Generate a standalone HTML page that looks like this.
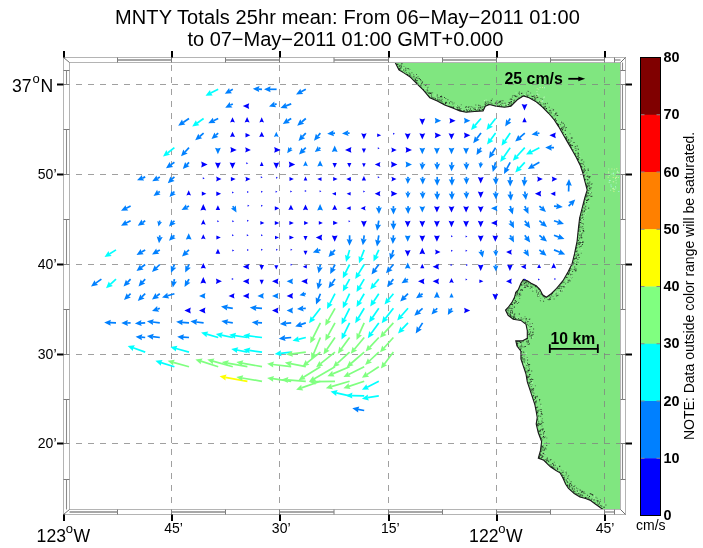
<!DOCTYPE html>
<html><head><meta charset="utf-8"><style>
html,body{margin:0;padding:0;background:#fff;}
svg{display:block;will-change:transform;}
text{font-family:"Liberation Sans",Arial,Helvetica,sans-serif;fill:#000;}
.t{font-size:20px;}
.deg{font-size:17.6px;}
.sup{font-size:13px;}
.min{font-size:14px;}
.cbl{font-size:14.4px;font-weight:bold;}
.b15{font-size:15.5px;font-weight:bold;}
.note{font-size:14px;}
</style></head><body>
<svg width="703" height="548" viewBox="0 0 703 548">
<rect width="703" height="548" fill="#fff"/>
<text class="t" x="115" y="24" textLength="464.8" lengthAdjust="spacing">MNTY Totals 25hr mean: From 06&#8722;May&#8722;2011 01:00</text>
<text class="t" x="187.4" y="46.2">to 07&#8722;May&#8722;2011 01:00 GMT+0.000</text>
<path d="M395.2 62.5 L398.9 69.9 L404.2 73.1 L410.6 77.4 L417.0 83.8 L423.4 90.2 L429.8 97.7 L437.3 100.9 L444.7 105.1 L453.3 108.3 L459.7 110.9 L466.1 112.2 L474.6 111.5 L483.1 110.9 L485.3 106.2 L489.5 104.5 L496.0 106.2 L504.5 107.3 L510.9 106.2 L517.3 99.8 L523.6 95.9 L529.1 97.7 L535.7 101.4 L542.2 106.9 L548.8 113.5 L554.3 120.0 L558.6 126.6 L563.0 134.3 L567.4 141.9 L571.8 149.6 L576.2 157.3 L580.5 166.0 L582.7 172.6 L584.9 181.3 L587.2 190.0 L584.8 197.7 L582.2 207.9 L579.6 218.1 L578.4 228.3 L577.1 241.1 L574.5 253.9 L572.0 264.1 L568.1 271.8 L563.0 280.7 L556.6 288.4 L551.5 293.5 L546.4 297.3 L542.6 294.8 L540.0 289.6 L536.2 285.8 L531.1 283.3 L527.3 280.7 L523.4 279.4 L520.9 283.3 L518.3 289.6 L515.8 292.2 L514.5 297.3 L511.9 302.4 L508.1 307.5 L505.5 310.2 L508.1 315.3 L513.2 319.2 L520.9 320.4 L526.0 324.3 L527.3 330.7 L527.3 338.3 L522.2 340.9 L515.8 340.9 L517.0 346.0 L520.9 351.1 L520.9 358.8 L523.4 366.4 L526.0 374.1 L527.3 381.8 L529.8 389.4 L532.4 397.1 L534.9 404.8 L536.2 411.5 L537.2 417.5 L536.2 424.1 L538.3 432.9 L541.6 441.6 L540.5 450.4 L538.3 458.1 L543.8 460.3 L550.4 466.8 L556.0 470.5 L560.0 472.8 L562.8 477.8 L565.7 484.2 L568.5 488.5 L574.2 493.5 L579.9 497.0 L585.6 498.5 L590.6 500.6 L595.6 504.2 L601.3 508.4 L602.5 509.5 L620.5 509.5 L620.5 62.5 Z" fill="#80e680"/>
<defs><clipPath id="landclip"><path d="M395.2 62.5 L398.9 69.9 L404.2 73.1 L410.6 77.4 L417.0 83.8 L423.4 90.2 L429.8 97.7 L437.3 100.9 L444.7 105.1 L453.3 108.3 L459.7 110.9 L466.1 112.2 L474.6 111.5 L483.1 110.9 L485.3 106.2 L489.5 104.5 L496.0 106.2 L504.5 107.3 L510.9 106.2 L517.3 99.8 L523.6 95.9 L529.1 97.7 L535.7 101.4 L542.2 106.9 L548.8 113.5 L554.3 120.0 L558.6 126.6 L563.0 134.3 L567.4 141.9 L571.8 149.6 L576.2 157.3 L580.5 166.0 L582.7 172.6 L584.9 181.3 L587.2 190.0 L584.8 197.7 L582.2 207.9 L579.6 218.1 L578.4 228.3 L577.1 241.1 L574.5 253.9 L572.0 264.1 L568.1 271.8 L563.0 280.7 L556.6 288.4 L551.5 293.5 L546.4 297.3 L542.6 294.8 L540.0 289.6 L536.2 285.8 L531.1 283.3 L527.3 280.7 L523.4 279.4 L520.9 283.3 L518.3 289.6 L515.8 292.2 L514.5 297.3 L511.9 302.4 L508.1 307.5 L505.5 310.2 L508.1 315.3 L513.2 319.2 L520.9 320.4 L526.0 324.3 L527.3 330.7 L527.3 338.3 L522.2 340.9 L515.8 340.9 L517.0 346.0 L520.9 351.1 L520.9 358.8 L523.4 366.4 L526.0 374.1 L527.3 381.8 L529.8 389.4 L532.4 397.1 L534.9 404.8 L536.2 411.5 L537.2 417.5 L536.2 424.1 L538.3 432.9 L541.6 441.6 L540.5 450.4 L538.3 458.1 L543.8 460.3 L550.4 466.8 L556.0 470.5 L560.0 472.8 L562.8 477.8 L565.7 484.2 L568.5 488.5 L574.2 493.5 L579.9 497.0 L585.6 498.5 L590.6 500.6 L595.6 504.2 L601.3 508.4 L602.5 509.5 L620.5 509.5 L620.5 62.5 Z"/></clipPath></defs>
<g clip-path="url(#landclip)"><path d="M396.1 64.3h1v1h-1zM396.1 61.6h1v1h-1zM398.0 63.8h1v1h-1zM397.7 67.5h1v1h-1zM395.0 62.5h1v1h-1zM396.8 63.6h1v1h-1zM405.2 69.6h1v1h-1zM400.4 67.3h1v1h-1zM404.4 71.3h1v1h-1zM409.4 74.4h1v1h-1zM408.3 68.5h1v1h-1zM409.0 75.2h1v1h-1zM406.0 72.0h1v1h-1zM407.2 73.9h1v1h-1zM408.5 72.2h1v1h-1zM413.3 74.0h1v1h-1zM412.4 76.8h1v1h-1zM413.6 77.6h1v1h-1zM415.8 82.5h1v1h-1zM416.4 80.5h1v1h-1zM411.1 77.7h1v1h-1zM420.5 87.3h1v1h-1zM419.9 86.3h1v1h-1zM424.5 91.1h1v1h-1zM427.4 92.0h1v1h-1zM426.9 87.4h1v1h-1zM426.0 92.2h1v1h-1zM431.0 92.3h1v1h-1zM429.8 92.6h1v1h-1zM426.5 91.5h1v1h-1zM429.4 92.3h1v1h-1zM427.6 86.7h1v1h-1zM423.0 89.8h1v1h-1zM432.2 97.5h1v1h-1zM432.1 92.2h1v1h-1zM436.7 95.8h1v1h-1zM437.2 98.2h1v1h-1zM440.4 101.5h1v1h-1zM439.9 101.6h1v1h-1zM450.7 105.9h1v1h-1zM453.7 102.6h1v1h-1zM453.2 106.3h1v1h-1zM451.1 106.3h1v1h-1zM444.6 104.7h1v1h-1zM459.0 109.5h1v1h-1zM458.1 109.8h1v1h-1zM457.8 109.3h1v1h-1zM460.8 104.2h1v1h-1zM458.0 106.5h1v1h-1zM462.2 110.4h1v1h-1zM471.0 110.1h1v1h-1zM469.3 111.2h1v1h-1zM466.8 110.9h1v1h-1zM468.1 108.8h1v1h-1zM465.8 109.4h1v1h-1zM472.3 106.7h1v1h-1zM474.5 107.2h1v1h-1zM474.3 110.9h1v1h-1zM482.2 108.9h1v1h-1zM479.2 109.2h1v1h-1zM475.2 110.5h1v1h-1zM483.2 106.2h1v1h-1zM478.2 106.9h1v1h-1zM483.0 108.3h1v1h-1zM480.0 108.7h1v1h-1zM486.0 103.0h1v1h-1zM491.3 104.4h1v1h-1zM490.6 101.4h1v1h-1zM491.8 98.6h1v1h-1zM489.8 103.8h1v1h-1zM496.6 100.3h1v1h-1zM495.1 102.7h1v1h-1zM492.4 104.8h1v1h-1zM490.7 99.8h1v1h-1zM492.6 104.2h1v1h-1zM503.5 106.3h1v1h-1zM500.5 99.9h1v1h-1zM503.6 102.9h1v1h-1zM496.9 103.3h1v1h-1zM497.0 105.0h1v1h-1zM498.6 100.8h1v1h-1zM507.8 104.5h1v1h-1zM504.8 103.3h1v1h-1zM510.8 104.2h1v1h-1zM513.1 101.6h1v1h-1zM511.7 104.3h1v1h-1zM511.8 104.1h1v1h-1zM518.1 97.4h1v1h-1zM518.8 97.6h1v1h-1zM518.5 97.3h1v1h-1zM520.2 97.1h1v1h-1zM514.7 95.2h1v1h-1zM519.0 94.0h1v1h-1zM517.3 98.6h1v1h-1zM524.1 95.7h1v1h-1zM528.0 91.1h1v1h-1zM526.8 96.4h1v1h-1zM527.0 95.2h1v1h-1zM530.1 92.5h1v1h-1zM527.4 90.8h1v1h-1zM527.0 96.7h1v1h-1zM534.2 98.4h1v1h-1zM534.9 98.1h1v1h-1zM536.0 94.9h1v1h-1zM540.4 98.0h1v1h-1zM539.7 103.5h1v1h-1zM535.8 100.7h1v1h-1zM540.1 104.1h1v1h-1zM547.1 111.5h1v1h-1zM544.7 104.2h1v1h-1zM546.6 110.9h1v1h-1zM555.6 113.3h1v1h-1zM549.8 113.6h1v1h-1zM554.6 114.2h1v1h-1zM553.6 115.2h1v1h-1zM555.3 119.2h1v1h-1zM560.1 124.0h1v1h-1zM559.8 124.2h1v1h-1zM562.9 126.4h1v1h-1zM565.0 128.4h1v1h-1zM560.0 129.2h1v1h-1zM562.4 132.3h1v1h-1zM569.5 139.4h1v1h-1zM570.5 136.9h1v1h-1zM564.3 136.9h1v1h-1zM569.6 133.3h1v1h-1zM565.5 139.1h1v1h-1zM567.6 140.2h1v1h-1zM566.5 136.8h1v1h-1zM563.6 134.6h1v1h-1zM567.4 141.3h1v1h-1zM571.2 143.4h1v1h-1zM569.8 141.4h1v1h-1zM569.8 144.0h1v1h-1zM568.3 142.5h1v1h-1zM570.8 140.4h1v1h-1zM574.5 147.5h1v1h-1zM576.6 148.6h1v1h-1zM577.6 153.0h1v1h-1zM578.1 154.7h1v1h-1zM575.3 148.0h1v1h-1zM578.0 155.4h1v1h-1zM580.1 165.1h1v1h-1zM577.1 159.4h1v1h-1zM578.6 162.5h1v1h-1zM582.4 170.9h1v1h-1zM587.7 168.3h1v1h-1zM587.9 170.0h1v1h-1zM584.2 178.2h1v1h-1zM587.9 176.9h1v1h-1zM587.4 176.0h1v1h-1zM583.4 176.1h1v1h-1zM586.3 172.6h1v1h-1zM583.8 178.4h1v1h-1zM583.8 175.0h1v1h-1zM587.3 174.9h1v1h-1zM586.4 185.2h1v1h-1zM586.9 185.5h1v1h-1zM586.3 187.1h1v1h-1zM586.7 189.4h1v1h-1zM590.4 187.3h1v1h-1zM589.8 193.5h1v1h-1zM585.2 196.6h1v1h-1zM585.0 195.0h1v1h-1zM591.0 192.3h1v1h-1zM586.3 190.7h1v1h-1zM586.6 199.4h1v1h-1zM583.1 206.7h1v1h-1zM582.0 207.0h1v1h-1zM588.3 207.6h1v1h-1zM584.3 198.3h1v1h-1zM583.4 202.5h1v1h-1zM580.1 214.4h1v1h-1zM582.6 216.6h1v1h-1zM584.0 210.9h1v1h-1zM584.3 209.7h1v1h-1zM578.7 225.8h1v1h-1zM581.5 227.4h1v1h-1zM582.8 228.1h1v1h-1zM580.7 221.7h1v1h-1zM582.9 219.0h1v1h-1zM578.5 226.0h1v1h-1zM578.6 229.8h1v1h-1zM579.8 230.4h1v1h-1zM579.1 235.1h1v1h-1zM577.3 238.8h1v1h-1zM583.2 230.9h1v1h-1zM579.3 228.7h1v1h-1zM578.9 234.6h1v1h-1zM578.5 237.0h1v1h-1zM577.3 234.1h1v1h-1zM578.3 230.4h1v1h-1zM575.8 248.2h1v1h-1zM576.2 246.9h1v1h-1zM575.4 246.5h1v1h-1zM578.1 242.5h1v1h-1zM576.3 244.9h1v1h-1zM576.8 250.3h1v1h-1zM580.8 252.7h1v1h-1zM578.5 244.1h1v1h-1zM574.5 251.1h1v1h-1zM577.4 253.1h1v1h-1zM576.1 247.5h1v1h-1zM574.6 261.6h1v1h-1zM575.7 253.9h1v1h-1zM576.8 264.1h1v1h-1zM572.6 268.9h1v1h-1zM569.5 268.7h1v1h-1zM574.4 268.2h1v1h-1zM569.3 270.1h1v1h-1zM567.0 272.9h1v1h-1zM566.2 273.8h1v1h-1zM571.5 276.9h1v1h-1zM559.8 283.5h1v1h-1zM564.2 286.3h1v1h-1zM565.1 283.5h1v1h-1zM556.5 295.3h1v1h-1zM555.6 293.8h1v1h-1zM552.2 292.2h1v1h-1zM557.7 294.7h1v1h-1zM550.6 293.3h1v1h-1zM550.1 297.1h1v1h-1zM549.0 294.5h1v1h-1zM547.6 295.6h1v1h-1zM547.1 295.9h1v1h-1zM548.5 299.5h1v1h-1zM540.2 298.2h1v1h-1zM539.7 290.6h1v1h-1zM538.6 295.5h1v1h-1zM541.4 292.9h1v1h-1zM538.7 288.6h1v1h-1zM535.9 285.8h1v1h-1zM534.9 285.6h1v1h-1zM531.9 286.5h1v1h-1zM527.9 281.0h1v1h-1zM526.3 281.4h1v1h-1zM530.3 283.0h1v1h-1zM526.1 284.7h1v1h-1zM522.8 279.1h1v1h-1zM526.0 281.5h1v1h-1zM522.7 282.0h1v1h-1zM521.4 284.8h1v1h-1zM526.1 282.4h1v1h-1zM522.8 282.2h1v1h-1zM520.7 289.0h1v1h-1zM524.3 284.6h1v1h-1zM521.9 290.1h1v1h-1zM519.4 292.6h1v1h-1zM517.7 289.7h1v1h-1zM519.2 298.1h1v1h-1zM517.8 293.3h1v1h-1zM516.1 295.6h1v1h-1zM514.6 294.6h1v1h-1zM512.9 299.1h1v1h-1zM515.0 301.7h1v1h-1zM511.4 303.3h1v1h-1zM509.5 306.2h1v1h-1zM512.2 305.4h1v1h-1zM506.2 308.6h1v1h-1zM510.4 310.3h1v1h-1zM510.4 308.1h1v1h-1zM508.1 309.5h1v1h-1zM511.4 310.3h1v1h-1zM513.3 317.3h1v1h-1zM509.3 315.8h1v1h-1zM510.7 316.9h1v1h-1zM510.1 315.3h1v1h-1zM511.9 316.0h1v1h-1zM514.1 316.3h1v1h-1zM513.5 314.4h1v1h-1zM514.6 317.5h1v1h-1zM520.2 319.9h1v1h-1zM524.5 316.3h1v1h-1zM524.9 320.9h1v1h-1zM524.1 322.4h1v1h-1zM523.4 318.3h1v1h-1zM527.1 324.0h1v1h-1zM527.7 325.1h1v1h-1zM527.1 323.7h1v1h-1zM525.9 324.9h1v1h-1zM532.5 333.8h1v1h-1zM526.9 332.8h1v1h-1zM529.0 333.1h1v1h-1zM527.2 334.4h1v1h-1zM525.0 345.9h1v1h-1zM526.9 343.4h1v1h-1zM526.1 338.4h1v1h-1zM519.1 342.6h1v1h-1zM521.7 345.7h1v1h-1zM516.8 340.8h1v1h-1zM517.8 340.7h1v1h-1zM516.7 344.3h1v1h-1zM517.0 344.2h1v1h-1zM516.7 340.3h1v1h-1zM515.5 341.0h1v1h-1zM518.8 339.8h1v1h-1zM521.4 346.8h1v1h-1zM523.6 355.6h1v1h-1zM520.4 352.7h1v1h-1zM521.2 351.5h1v1h-1zM522.8 351.5h1v1h-1zM523.4 359.4h1v1h-1zM528.6 365.4h1v1h-1zM525.6 367.5h1v1h-1zM527.9 371.3h1v1h-1zM528.2 366.4h1v1h-1zM524.6 370.5h1v1h-1zM525.4 370.8h1v1h-1zM526.9 378.5h1v1h-1zM526.7 379.0h1v1h-1zM530.1 379.4h1v1h-1zM527.3 382.8h1v1h-1zM528.1 382.3h1v1h-1zM531.7 384.3h1v1h-1zM527.7 382.7h1v1h-1zM534.9 385.2h1v1h-1zM530.2 384.1h1v1h-1zM533.6 392.7h1v1h-1zM532.8 392.2h1v1h-1zM533.1 395.4h1v1h-1zM534.3 403.7h1v1h-1zM534.9 402.5h1v1h-1zM532.1 396.7h1v1h-1zM536.1 402.2h1v1h-1zM534.3 401.6h1v1h-1zM534.3 397.0h1v1h-1zM533.8 402.1h1v1h-1zM537.6 409.9h1v1h-1zM536.5 407.1h1v1h-1zM534.5 404.4h1v1h-1zM537.6 411.0h1v1h-1zM539.9 416.0h1v1h-1zM539.3 415.3h1v1h-1zM535.9 412.0h1v1h-1zM540.3 415.7h1v1h-1zM541.8 418.2h1v1h-1zM538.3 422.9h1v1h-1zM538.5 423.7h1v1h-1zM538.2 420.6h1v1h-1zM536.4 419.7h1v1h-1zM537.0 419.6h1v1h-1zM541.6 421.6h1v1h-1zM537.8 421.4h1v1h-1zM537.2 429.0h1v1h-1zM536.0 424.0h1v1h-1zM539.8 431.3h1v1h-1zM538.1 431.3h1v1h-1zM539.5 430.2h1v1h-1zM541.5 425.5h1v1h-1zM539.3 435.8h1v1h-1zM541.9 439.5h1v1h-1zM546.3 437.5h1v1h-1zM544.7 436.2h1v1h-1zM543.4 437.5h1v1h-1zM540.9 437.5h1v1h-1zM542.7 445.3h1v1h-1zM540.6 447.6h1v1h-1zM540.9 443.1h1v1h-1zM542.4 447.3h1v1h-1zM546.0 442.5h1v1h-1zM539.9 454.0h1v1h-1zM542.8 459.2h1v1h-1zM545.7 462.1h1v1h-1zM549.6 459.7h1v1h-1zM553.8 461.7h1v1h-1zM550.3 464.8h1v1h-1zM544.3 458.9h1v1h-1zM548.3 461.3h1v1h-1zM550.6 459.0h1v1h-1zM546.0 460.2h1v1h-1zM555.5 469.8h1v1h-1zM556.7 467.2h1v1h-1zM551.0 466.8h1v1h-1zM554.8 467.6h1v1h-1zM560.6 469.8h1v1h-1zM562.4 477.1h1v1h-1zM562.6 470.6h1v1h-1zM565.5 474.4h1v1h-1zM566.0 473.2h1v1h-1zM561.1 475.2h1v1h-1zM568.2 475.0h1v1h-1zM563.7 478.8h1v1h-1zM563.7 480.3h1v1h-1zM568.5 479.5h1v1h-1zM564.7 482.2h1v1h-1zM568.2 485.4h1v1h-1zM569.1 485.8h1v1h-1zM567.2 484.4h1v1h-1zM566.3 485.0h1v1h-1zM567.3 486.7h1v1h-1zM568.7 488.4h1v1h-1zM572.2 486.7h1v1h-1zM574.4 485.0h1v1h-1zM570.2 489.2h1v1h-1zM579.4 496.0h1v1h-1zM577.2 493.3h1v1h-1zM577.3 488.3h1v1h-1zM575.6 492.9h1v1h-1zM576.7 489.9h1v1h-1zM584.0 491.5h1v1h-1zM584.5 497.3h1v1h-1zM581.4 497.0h1v1h-1zM581.5 490.6h1v1h-1zM590.5 493.4h1v1h-1zM588.5 498.9h1v1h-1zM589.8 493.8h1v1h-1zM596.6 497.7h1v1h-1zM597.1 500.4h1v1h-1zM590.7 499.6h1v1h-1zM596.5 500.0h1v1h-1zM599.7 507.1h1v1h-1zM600.6 505.6h1v1h-1zM599.7 506.9h1v1h-1zM597.6 505.0h1v1h-1zM599.9 499.2h1v1h-1zM598.8 503.5h1v1h-1zM597.0 502.4h1v1h-1z" fill="#1a1a1a" fill-opacity="0.45"/><path d="M397.8 68.0h1v1h-1zM396.8 66.1h1v1h-1zM395.3 62.2h1v1h-1zM399.7 64.7h1v1h-1zM401.5 62.9h1v1h-1zM397.0 66.5h1v1h-1zM398.5 60.6h1v1h-1zM403.4 65.9h1v1h-1zM405.3 69.8h1v1h-1zM399.3 69.6h1v1h-1zM408.5 75.1h1v1h-1zM409.3 73.1h1v1h-1zM411.4 72.3h1v1h-1zM410.4 75.8h1v1h-1zM409.1 76.1h1v1h-1zM409.6 69.4h1v1h-1zM415.0 80.4h1v1h-1zM417.5 76.2h1v1h-1zM417.5 78.0h1v1h-1zM416.9 80.0h1v1h-1zM414.8 77.8h1v1h-1zM422.1 81.2h1v1h-1zM421.0 87.7h1v1h-1zM423.6 84.3h1v1h-1zM422.9 89.7h1v1h-1zM423.3 89.0h1v1h-1zM422.0 82.2h1v1h-1zM419.8 85.2h1v1h-1zM430.9 94.2h1v1h-1zM424.6 91.6h1v1h-1zM429.1 92.4h1v1h-1zM427.3 90.2h1v1h-1zM433.4 97.2h1v1h-1zM432.9 98.1h1v1h-1zM432.1 97.4h1v1h-1zM431.4 98.1h1v1h-1zM431.4 97.4h1v1h-1zM436.8 99.0h1v1h-1zM434.4 98.6h1v1h-1zM445.3 98.1h1v1h-1zM440.1 99.7h1v1h-1zM441.0 100.3h1v1h-1zM438.7 99.3h1v1h-1zM444.3 104.0h1v1h-1zM439.5 97.2h1v1h-1zM442.0 103.2h1v1h-1zM451.6 101.8h1v1h-1zM452.4 103.6h1v1h-1zM448.6 105.8h1v1h-1zM446.1 102.3h1v1h-1zM450.3 101.0h1v1h-1zM452.1 107.5h1v1h-1zM459.4 106.4h1v1h-1zM456.6 105.3h1v1h-1zM460.5 110.2h1v1h-1zM465.6 111.6h1v1h-1zM460.7 110.7h1v1h-1zM460.4 108.0h1v1h-1zM463.5 111.0h1v1h-1zM468.6 106.2h1v1h-1zM466.1 108.9h1v1h-1zM466.4 109.8h1v1h-1zM473.1 108.3h1v1h-1zM470.6 106.3h1v1h-1zM473.6 110.8h1v1h-1zM478.2 107.7h1v1h-1zM474.4 109.1h1v1h-1zM475.3 104.6h1v1h-1zM478.5 109.4h1v1h-1zM480.5 108.3h1v1h-1zM484.4 103.8h1v1h-1zM487.7 103.2h1v1h-1zM485.4 105.4h1v1h-1zM489.5 102.3h1v1h-1zM500.2 103.9h1v1h-1zM498.8 105.4h1v1h-1zM500.1 101.0h1v1h-1zM498.3 102.1h1v1h-1zM497.3 102.8h1v1h-1zM508.1 103.6h1v1h-1zM507.7 103.7h1v1h-1zM509.6 105.3h1v1h-1zM509.8 105.7h1v1h-1zM507.3 106.1h1v1h-1zM510.6 104.5h1v1h-1zM512.5 95.1h1v1h-1zM508.3 102.0h1v1h-1zM511.8 101.1h1v1h-1zM512.9 102.2h1v1h-1zM514.2 99.5h1v1h-1zM511.9 96.6h1v1h-1zM509.7 98.8h1v1h-1zM521.8 96.1h1v1h-1zM515.8 96.3h1v1h-1zM518.9 91.6h1v1h-1zM516.5 95.8h1v1h-1zM521.0 93.1h1v1h-1zM523.8 95.6h1v1h-1zM526.3 92.4h1v1h-1zM536.1 97.2h1v1h-1zM533.0 98.7h1v1h-1zM532.7 95.7h1v1h-1zM535.7 96.4h1v1h-1zM542.3 104.2h1v1h-1zM539.1 101.1h1v1h-1zM541.8 98.7h1v1h-1zM536.9 102.3h1v1h-1zM540.3 103.7h1v1h-1zM537.9 102.6h1v1h-1zM535.7 101.1h1v1h-1zM545.1 109.4h1v1h-1zM551.5 108.7h1v1h-1zM546.9 102.7h1v1h-1zM548.7 106.8h1v1h-1zM549.1 111.8h1v1h-1zM547.9 112.4h1v1h-1zM545.0 103.1h1v1h-1zM545.6 110.0h1v1h-1zM550.2 109.7h1v1h-1zM545.0 105.9h1v1h-1zM554.8 112.8h1v1h-1zM553.7 119.3h1v1h-1zM554.9 118.0h1v1h-1zM553.1 109.2h1v1h-1zM550.4 111.4h1v1h-1zM550.7 115.5h1v1h-1zM550.9 112.4h1v1h-1zM561.3 122.2h1v1h-1zM556.7 123.9h1v1h-1zM557.6 124.0h1v1h-1zM562.6 132.0h1v1h-1zM562.7 127.7h1v1h-1zM561.7 126.8h1v1h-1zM560.4 128.7h1v1h-1zM565.9 136.0h1v1h-1zM570.9 137.8h1v1h-1zM566.2 137.5h1v1h-1zM569.0 142.7h1v1h-1zM568.1 143.5h1v1h-1zM570.1 146.8h1v1h-1zM570.8 144.9h1v1h-1zM569.5 145.1h1v1h-1zM570.4 145.4h1v1h-1zM573.1 152.1h1v1h-1zM575.2 153.1h1v1h-1zM573.0 152.0h1v1h-1zM577.3 154.6h1v1h-1zM580.8 159.8h1v1h-1zM581.3 163.0h1v1h-1zM582.5 164.0h1v1h-1zM578.9 156.7h1v1h-1zM578.5 162.2h1v1h-1zM583.3 161.4h1v1h-1zM580.2 166.1h1v1h-1zM582.0 171.4h1v1h-1zM581.0 165.8h1v1h-1zM583.9 170.6h1v1h-1zM584.1 165.8h1v1h-1zM585.2 179.0h1v1h-1zM583.1 175.6h1v1h-1zM587.3 179.4h1v1h-1zM590.6 187.3h1v1h-1zM589.9 188.4h1v1h-1zM586.9 183.3h1v1h-1zM591.6 183.2h1v1h-1zM586.1 185.0h1v1h-1zM585.9 183.8h1v1h-1zM589.2 194.9h1v1h-1zM585.4 195.0h1v1h-1zM586.8 192.6h1v1h-1zM584.6 207.4h1v1h-1zM583.6 201.0h1v1h-1zM588.1 207.7h1v1h-1zM586.5 199.9h1v1h-1zM581.2 217.8h1v1h-1zM579.6 217.4h1v1h-1zM581.5 211.7h1v1h-1zM581.8 211.6h1v1h-1zM583.2 211.6h1v1h-1zM585.3 209.0h1v1h-1zM584.7 213.9h1v1h-1zM579.8 224.9h1v1h-1zM579.8 221.3h1v1h-1zM578.9 219.4h1v1h-1zM583.0 223.4h1v1h-1zM582.2 225.9h1v1h-1zM581.0 235.2h1v1h-1zM578.3 228.3h1v1h-1zM581.0 233.4h1v1h-1zM583.3 230.7h1v1h-1zM579.0 238.3h1v1h-1zM582.2 232.4h1v1h-1zM582.4 229.7h1v1h-1zM577.7 243.5h1v1h-1zM576.4 244.6h1v1h-1zM582.3 242.0h1v1h-1zM575.3 249.5h1v1h-1zM581.0 245.4h1v1h-1zM580.1 245.9h1v1h-1zM580.7 241.9h1v1h-1zM577.1 242.7h1v1h-1zM579.9 242.5h1v1h-1zM575.5 263.5h1v1h-1zM577.9 255.1h1v1h-1zM575.1 258.1h1v1h-1zM572.3 260.4h1v1h-1zM573.9 257.6h1v1h-1zM572.7 263.6h1v1h-1zM576.0 261.8h1v1h-1zM570.7 268.6h1v1h-1zM570.8 277.3h1v1h-1zM567.3 271.9h1v1h-1zM567.3 272.7h1v1h-1zM571.4 274.0h1v1h-1zM565.3 276.3h1v1h-1zM560.3 291.0h1v1h-1zM565.6 283.0h1v1h-1zM560.6 288.1h1v1h-1zM556.7 288.3h1v1h-1zM560.0 290.0h1v1h-1zM561.6 282.2h1v1h-1zM555.7 292.4h1v1h-1zM551.9 292.5h1v1h-1zM555.8 289.9h1v1h-1zM556.8 295.1h1v1h-1zM555.9 295.4h1v1h-1zM551.2 295.2h1v1h-1zM549.4 295.8h1v1h-1zM548.9 299.0h1v1h-1zM553.6 298.4h1v1h-1zM541.9 295.2h1v1h-1zM544.1 298.1h1v1h-1zM539.9 300.2h1v1h-1zM539.0 291.2h1v1h-1zM537.4 296.1h1v1h-1zM540.3 293.5h1v1h-1zM537.0 294.6h1v1h-1zM535.9 289.8h1v1h-1zM538.8 289.4h1v1h-1zM535.2 286.3h1v1h-1zM539.0 288.8h1v1h-1zM530.4 284.3h1v1h-1zM532.8 284.0h1v1h-1zM532.3 290.7h1v1h-1zM531.0 286.7h1v1h-1zM529.8 287.9h1v1h-1zM526.2 285.6h1v1h-1zM527.0 281.2h1v1h-1zM525.3 286.3h1v1h-1zM528.0 281.5h1v1h-1zM526.5 284.2h1v1h-1zM524.4 280.1h1v1h-1zM523.5 279.7h1v1h-1zM523.3 279.1h1v1h-1zM522.6 281.1h1v1h-1zM522.6 281.7h1v1h-1zM521.1 282.0h1v1h-1zM523.7 286.5h1v1h-1zM520.9 289.2h1v1h-1zM523.9 287.0h1v1h-1zM515.9 291.2h1v1h-1zM516.9 292.2h1v1h-1zM517.1 291.1h1v1h-1zM515.2 292.2h1v1h-1zM515.5 302.2h1v1h-1zM513.1 301.2h1v1h-1zM511.9 300.9h1v1h-1zM511.8 308.2h1v1h-1zM510.7 307.8h1v1h-1zM509.1 307.7h1v1h-1zM510.2 303.6h1v1h-1zM506.2 310.4h1v1h-1zM509.7 310.4h1v1h-1zM507.6 312.3h1v1h-1zM505.5 310.8h1v1h-1zM511.4 309.7h1v1h-1zM506.7 309.8h1v1h-1zM511.9 311.3h1v1h-1zM506.8 312.2h1v1h-1zM511.8 312.9h1v1h-1zM518.9 319.4h1v1h-1zM515.0 318.1h1v1h-1zM520.1 318.7h1v1h-1zM513.8 314.4h1v1h-1zM514.3 313.2h1v1h-1zM514.2 313.8h1v1h-1zM513.1 317.9h1v1h-1zM529.3 318.6h1v1h-1zM526.5 321.6h1v1h-1zM525.3 322.4h1v1h-1zM531.8 322.9h1v1h-1zM531.5 335.1h1v1h-1zM532.5 331.4h1v1h-1zM530.8 334.4h1v1h-1zM532.5 333.9h1v1h-1zM529.4 332.9h1v1h-1zM529.3 335.6h1v1h-1zM526.6 341.8h1v1h-1zM526.9 338.2h1v1h-1zM528.0 341.5h1v1h-1zM522.6 341.2h1v1h-1zM515.7 340.5h1v1h-1zM519.9 340.4h1v1h-1zM515.7 340.3h1v1h-1zM516.3 342.0h1v1h-1zM516.9 340.9h1v1h-1zM519.4 349.1h1v1h-1zM523.5 346.5h1v1h-1zM518.0 346.9h1v1h-1zM519.5 346.2h1v1h-1zM520.5 353.2h1v1h-1zM520.7 355.4h1v1h-1zM528.1 364.1h1v1h-1zM521.6 358.4h1v1h-1zM524.4 359.4h1v1h-1zM523.8 358.3h1v1h-1zM527.0 371.4h1v1h-1zM525.2 371.1h1v1h-1zM524.0 366.7h1v1h-1zM528.3 369.9h1v1h-1zM525.9 371.4h1v1h-1zM527.6 369.4h1v1h-1zM529.7 374.1h1v1h-1zM528.0 376.9h1v1h-1zM531.6 379.0h1v1h-1zM528.8 377.4h1v1h-1zM527.5 382.3h1v1h-1zM529.2 387.4h1v1h-1zM531.8 396.4h1v1h-1zM530.8 388.6h1v1h-1zM530.1 389.0h1v1h-1zM532.8 387.9h1v1h-1zM531.7 391.4h1v1h-1zM534.8 403.7h1v1h-1zM539.0 400.2h1v1h-1zM537.2 406.5h1v1h-1zM537.3 410.6h1v1h-1zM535.3 408.9h1v1h-1zM535.8 407.3h1v1h-1zM538.6 409.4h1v1h-1zM536.3 410.7h1v1h-1zM540.3 403.8h1v1h-1zM541.4 420.6h1v1h-1zM540.5 429.0h1v1h-1zM538.7 423.2h1v1h-1zM536.7 424.0h1v1h-1zM541.9 429.8h1v1h-1zM544.1 437.1h1v1h-1zM539.2 434.4h1v1h-1zM540.7 434.0h1v1h-1zM542.7 447.2h1v1h-1zM540.3 447.5h1v1h-1zM541.1 445.1h1v1h-1zM543.8 448.4h1v1h-1zM540.3 454.1h1v1h-1zM538.9 453.7h1v1h-1zM541.3 454.7h1v1h-1zM542.8 453.6h1v1h-1zM539.7 453.3h1v1h-1zM540.8 450.2h1v1h-1zM544.6 454.1h1v1h-1zM542.7 459.5h1v1h-1zM539.9 458.4h1v1h-1zM538.3 457.1h1v1h-1zM538.9 456.2h1v1h-1zM540.5 454.4h1v1h-1zM546.2 460.4h1v1h-1zM546.1 462.3h1v1h-1zM545.6 459.4h1v1h-1zM550.5 464.2h1v1h-1zM544.3 460.6h1v1h-1zM550.1 459.3h1v1h-1zM548.8 464.2h1v1h-1zM552.7 463.5h1v1h-1zM554.8 464.8h1v1h-1zM553.3 465.2h1v1h-1zM559.0 465.9h1v1h-1zM562.4 475.1h1v1h-1zM563.5 475.4h1v1h-1zM566.9 481.5h1v1h-1zM567.5 476.3h1v1h-1zM563.4 477.1h1v1h-1zM566.2 480.6h1v1h-1zM562.9 478.1h1v1h-1zM566.2 484.9h1v1h-1zM571.2 484.9h1v1h-1zM571.8 488.3h1v1h-1zM573.3 492.6h1v1h-1zM576.0 487.5h1v1h-1zM573.3 490.2h1v1h-1zM574.2 493.1h1v1h-1zM579.7 490.1h1v1h-1zM579.3 493.6h1v1h-1zM580.9 492.1h1v1h-1zM579.6 489.2h1v1h-1zM584.4 492.9h1v1h-1zM581.7 491.3h1v1h-1zM583.0 492.5h1v1h-1zM579.4 496.4h1v1h-1zM586.3 496.9h1v1h-1zM586.7 498.6h1v1h-1zM588.9 498.7h1v1h-1zM593.5 499.4h1v1h-1zM595.4 496.8h1v1h-1zM593.5 499.6h1v1h-1zM591.4 498.5h1v1h-1zM594.4 502.0h1v1h-1zM596.9 500.4h1v1h-1zM601.3 505.7h1v1h-1zM600.2 505.0h1v1h-1zM600.6 507.7h1v1h-1zM596.7 503.9h1v1h-1zM597.8 504.0h1v1h-1zM599.7 501.1h1v1h-1zM603.5 506.7h1v1h-1z" fill="#1a1a1a" fill-opacity="0.6"/><path d="M399.2 65.6h1v1h-1zM396.8 64.1h1v1h-1zM398.0 60.9h1v1h-1zM399.1 68.5h1v1h-1zM405.3 67.7h1v1h-1zM403.2 69.6h1v1h-1zM401.7 71.3h1v1h-1zM401.0 70.8h1v1h-1zM407.5 68.1h1v1h-1zM410.1 76.9h1v1h-1zM409.0 75.9h1v1h-1zM416.1 77.3h1v1h-1zM415.5 82.2h1v1h-1zM414.9 78.9h1v1h-1zM415.6 80.2h1v1h-1zM419.8 79.1h1v1h-1zM415.7 74.1h1v1h-1zM413.4 75.7h1v1h-1zM421.1 82.8h1v1h-1zM420.6 84.4h1v1h-1zM422.0 85.9h1v1h-1zM420.2 86.2h1v1h-1zM419.3 86.0h1v1h-1zM428.2 92.7h1v1h-1zM429.8 93.2h1v1h-1zM428.7 96.4h1v1h-1zM426.7 89.5h1v1h-1zM437.3 96.9h1v1h-1zM434.9 98.2h1v1h-1zM441.6 103.0h1v1h-1zM441.6 101.4h1v1h-1zM443.0 103.5h1v1h-1zM440.1 96.1h1v1h-1zM438.4 99.7h1v1h-1zM444.9 102.9h1v1h-1zM441.0 95.7h1v1h-1zM445.3 102.0h1v1h-1zM449.8 106.6h1v1h-1zM449.0 102.6h1v1h-1zM452.5 106.8h1v1h-1zM445.2 103.2h1v1h-1zM444.9 103.5h1v1h-1zM453.1 107.4h1v1h-1zM459.3 109.2h1v1h-1zM458.8 107.5h1v1h-1zM456.7 107.0h1v1h-1zM459.1 110.1h1v1h-1zM462.5 110.6h1v1h-1zM460.5 109.9h1v1h-1zM462.7 111.1h1v1h-1zM466.7 111.6h1v1h-1zM467.8 106.8h1v1h-1zM472.6 110.8h1v1h-1zM471.2 110.4h1v1h-1zM470.0 108.5h1v1h-1zM469.3 109.9h1v1h-1zM469.4 109.9h1v1h-1zM466.6 110.2h1v1h-1zM481.7 108.9h1v1h-1zM478.9 109.6h1v1h-1zM478.7 108.5h1v1h-1zM481.7 106.6h1v1h-1zM482.6 109.6h1v1h-1zM478.2 104.7h1v1h-1zM484.2 107.0h1v1h-1zM487.6 103.9h1v1h-1zM485.2 104.3h1v1h-1zM487.5 101.5h1v1h-1zM495.7 101.7h1v1h-1zM493.0 105.0h1v1h-1zM501.0 105.4h1v1h-1zM499.4 101.0h1v1h-1zM498.6 105.2h1v1h-1zM501.6 102.7h1v1h-1zM504.4 102.5h1v1h-1zM499.5 106.0h1v1h-1zM505.4 105.2h1v1h-1zM509.6 105.0h1v1h-1zM505.5 105.3h1v1h-1zM510.6 101.4h1v1h-1zM511.3 103.2h1v1h-1zM510.5 101.3h1v1h-1zM510.6 98.5h1v1h-1zM509.3 102.1h1v1h-1zM514.6 101.3h1v1h-1zM514.3 95.2h1v1h-1zM518.5 92.7h1v1h-1zM521.6 95.5h1v1h-1zM521.7 96.2h1v1h-1zM526.5 94.4h1v1h-1zM527.1 96.6h1v1h-1zM531.6 97.9h1v1h-1zM532.4 96.0h1v1h-1zM537.2 97.0h1v1h-1zM530.9 98.4h1v1h-1zM531.4 95.8h1v1h-1zM541.1 105.9h1v1h-1zM540.7 105.5h1v1h-1zM543.7 106.2h1v1h-1zM542.9 107.0h1v1h-1zM546.0 108.0h1v1h-1zM551.8 116.6h1v1h-1zM555.2 113.5h1v1h-1zM556.6 115.1h1v1h-1zM552.3 117.6h1v1h-1zM553.5 119.2h1v1h-1zM562.7 122.7h1v1h-1zM555.9 120.2h1v1h-1zM556.9 123.3h1v1h-1zM556.9 123.6h1v1h-1zM554.7 119.2h1v1h-1zM561.6 130.3h1v1h-1zM564.7 129.9h1v1h-1zM565.6 126.9h1v1h-1zM560.4 127.8h1v1h-1zM561.0 131.1h1v1h-1zM558.2 126.2h1v1h-1zM561.3 127.4h1v1h-1zM562.1 129.1h1v1h-1zM564.6 137.3h1v1h-1zM571.6 137.4h1v1h-1zM565.0 134.1h1v1h-1zM565.9 137.7h1v1h-1zM569.6 143.9h1v1h-1zM573.5 141.9h1v1h-1zM568.5 142.1h1v1h-1zM571.8 145.0h1v1h-1zM576.7 145.4h1v1h-1zM569.8 145.3h1v1h-1zM572.3 149.4h1v1h-1zM575.3 156.0h1v1h-1zM574.7 154.8h1v1h-1zM577.6 152.6h1v1h-1zM577.3 158.2h1v1h-1zM579.0 162.4h1v1h-1zM576.5 158.2h1v1h-1zM578.2 161.7h1v1h-1zM583.9 168.4h1v1h-1zM587.6 169.6h1v1h-1zM580.7 166.3h1v1h-1zM581.5 166.6h1v1h-1zM580.4 166.4h1v1h-1zM582.2 171.4h1v1h-1zM584.8 169.8h1v1h-1zM582.4 170.0h1v1h-1zM582.5 169.5h1v1h-1zM589.1 177.2h1v1h-1zM589.4 176.1h1v1h-1zM586.6 176.0h1v1h-1zM583.1 172.0h1v1h-1zM588.7 185.4h1v1h-1zM588.3 184.5h1v1h-1zM588.5 182.8h1v1h-1zM586.5 185.7h1v1h-1zM586.1 194.6h1v1h-1zM583.9 202.8h1v1h-1zM587.6 199.2h1v1h-1zM583.5 204.3h1v1h-1zM585.2 205.7h1v1h-1zM587.0 199.7h1v1h-1zM588.2 198.7h1v1h-1zM586.1 202.1h1v1h-1zM581.8 210.3h1v1h-1zM581.4 214.8h1v1h-1zM579.2 217.3h1v1h-1zM583.8 210.5h1v1h-1zM579.9 222.1h1v1h-1zM578.6 222.2h1v1h-1zM578.6 227.0h1v1h-1zM579.2 224.5h1v1h-1zM580.4 226.5h1v1h-1zM578.0 231.8h1v1h-1zM581.3 237.3h1v1h-1zM582.9 230.1h1v1h-1zM576.9 239.6h1v1h-1zM579.8 230.9h1v1h-1zM578.0 229.7h1v1h-1zM574.9 249.0h1v1h-1zM575.3 250.8h1v1h-1zM578.5 242.3h1v1h-1zM581.9 243.9h1v1h-1zM576.3 247.3h1v1h-1zM582.3 241.9h1v1h-1zM578.2 254.2h1v1h-1zM578.8 243.7h1v1h-1zM576.3 251.2h1v1h-1zM575.8 256.4h1v1h-1zM574.4 254.4h1v1h-1zM578.6 256.9h1v1h-1zM576.1 257.8h1v1h-1zM576.0 264.0h1v1h-1zM575.4 269.7h1v1h-1zM571.9 264.2h1v1h-1zM569.1 269.7h1v1h-1zM567.5 281.7h1v1h-1zM567.7 272.9h1v1h-1zM567.9 274.0h1v1h-1zM559.7 285.5h1v1h-1zM563.4 281.8h1v1h-1zM559.1 286.4h1v1h-1zM558.6 288.1h1v1h-1zM562.6 285.9h1v1h-1zM561.6 281.2h1v1h-1zM557.7 287.4h1v1h-1zM553.1 291.1h1v1h-1zM551.7 292.8h1v1h-1zM549.2 298.2h1v1h-1zM552.2 295.9h1v1h-1zM549.9 298.8h1v1h-1zM544.3 296.0h1v1h-1zM542.7 295.4h1v1h-1zM541.0 292.5h1v1h-1zM537.7 293.6h1v1h-1zM538.4 288.5h1v1h-1zM538.5 288.1h1v1h-1zM536.0 286.3h1v1h-1zM537.6 287.3h1v1h-1zM534.6 284.8h1v1h-1zM527.5 286.1h1v1h-1zM525.7 281.3h1v1h-1zM521.5 284.8h1v1h-1zM524.9 282.2h1v1h-1zM520.8 282.4h1v1h-1zM523.9 282.9h1v1h-1zM520.2 289.7h1v1h-1zM524.7 285.6h1v1h-1zM521.9 289.4h1v1h-1zM519.6 293.9h1v1h-1zM516.8 292.4h1v1h-1zM516.3 291.3h1v1h-1zM515.2 292.3h1v1h-1zM519.5 293.1h1v1h-1zM515.7 301.1h1v1h-1zM513.8 297.8h1v1h-1zM514.8 300.1h1v1h-1zM508.4 307.2h1v1h-1zM510.1 303.9h1v1h-1zM511.9 303.9h1v1h-1zM508.4 307.2h1v1h-1zM507.6 310.4h1v1h-1zM507.3 309.0h1v1h-1zM507.1 312.5h1v1h-1zM508.4 313.3h1v1h-1zM511.8 311.7h1v1h-1zM509.6 314.1h1v1h-1zM510.4 316.1h1v1h-1zM510.3 315.1h1v1h-1zM510.4 311.6h1v1h-1zM512.6 318.3h1v1h-1zM520.6 317.2h1v1h-1zM517.9 317.8h1v1h-1zM513.3 316.9h1v1h-1zM518.8 313.4h1v1h-1zM515.4 317.8h1v1h-1zM525.5 319.2h1v1h-1zM525.0 322.3h1v1h-1zM525.7 318.1h1v1h-1zM531.0 325.7h1v1h-1zM530.9 337.6h1v1h-1zM530.6 335.4h1v1h-1zM530.1 331.4h1v1h-1zM526.3 340.7h1v1h-1zM527.8 340.2h1v1h-1zM524.6 346.1h1v1h-1zM520.7 342.3h1v1h-1zM516.4 342.9h1v1h-1zM519.0 341.2h1v1h-1zM518.4 340.7h1v1h-1zM520.0 342.0h1v1h-1zM516.5 345.1h1v1h-1zM517.5 342.9h1v1h-1zM519.4 347.4h1v1h-1zM519.7 349.0h1v1h-1zM521.5 354.4h1v1h-1zM520.6 350.9h1v1h-1zM520.5 354.5h1v1h-1zM526.7 357.2h1v1h-1zM523.8 361.6h1v1h-1zM526.9 362.7h1v1h-1zM520.9 359.7h1v1h-1zM527.1 359.6h1v1h-1zM529.1 363.9h1v1h-1zM524.4 368.5h1v1h-1zM527.7 370.1h1v1h-1zM527.9 364.3h1v1h-1zM529.1 374.1h1v1h-1zM526.3 376.6h1v1h-1zM528.4 376.1h1v1h-1zM529.7 379.1h1v1h-1zM529.6 381.7h1v1h-1zM527.7 383.2h1v1h-1zM530.8 381.0h1v1h-1zM528.7 383.3h1v1h-1zM528.6 382.6h1v1h-1zM530.8 385.7h1v1h-1zM531.2 389.3h1v1h-1zM532.9 390.4h1v1h-1zM532.1 395.7h1v1h-1zM539.2 399.0h1v1h-1zM532.7 398.9h1v1h-1zM535.3 400.9h1v1h-1zM535.8 400.4h1v1h-1zM535.1 397.1h1v1h-1zM540.5 408.9h1v1h-1zM534.9 406.9h1v1h-1zM540.6 411.0h1v1h-1zM540.7 413.6h1v1h-1zM536.8 412.0h1v1h-1zM540.9 412.7h1v1h-1zM537.2 418.7h1v1h-1zM535.7 423.5h1v1h-1zM539.6 424.1h1v1h-1zM541.1 423.2h1v1h-1zM537.7 431.8h1v1h-1zM539.1 430.7h1v1h-1zM537.9 432.2h1v1h-1zM536.6 424.3h1v1h-1zM539.4 435.7h1v1h-1zM539.8 436.7h1v1h-1zM543.0 436.0h1v1h-1zM543.2 433.6h1v1h-1zM543.9 431.0h1v1h-1zM539.5 433.8h1v1h-1zM538.9 435.0h1v1h-1zM542.6 449.7h1v1h-1zM540.9 444.3h1v1h-1zM544.0 449.5h1v1h-1zM542.2 446.3h1v1h-1zM542.4 456.1h1v1h-1zM538.6 457.5h1v1h-1zM540.0 450.9h1v1h-1zM539.7 454.9h1v1h-1zM542.0 457.1h1v1h-1zM538.7 457.5h1v1h-1zM547.2 459.7h1v1h-1zM545.1 459.6h1v1h-1zM546.5 458.4h1v1h-1zM553.6 467.5h1v1h-1zM551.8 466.7h1v1h-1zM552.0 463.3h1v1h-1zM550.8 466.8h1v1h-1zM553.0 464.5h1v1h-1zM552.5 467.5h1v1h-1zM557.1 468.8h1v1h-1zM559.3 465.8h1v1h-1zM558.7 471.6h1v1h-1zM562.4 472.1h1v1h-1zM560.2 472.8h1v1h-1zM565.7 479.5h1v1h-1zM563.6 477.4h1v1h-1zM567.0 484.8h1v1h-1zM573.8 488.6h1v1h-1zM573.5 485.9h1v1h-1zM569.2 486.8h1v1h-1zM574.3 491.3h1v1h-1zM571.9 488.6h1v1h-1zM578.1 493.3h1v1h-1zM582.4 491.3h1v1h-1zM576.3 493.8h1v1h-1zM579.1 496.2h1v1h-1zM580.4 494.4h1v1h-1zM582.1 494.7h1v1h-1zM581.4 496.8h1v1h-1zM585.0 497.0h1v1h-1zM592.3 494.8h1v1h-1zM589.0 496.1h1v1h-1zM589.4 499.7h1v1h-1zM588.1 497.4h1v1h-1zM590.9 499.7h1v1h-1zM598.6 506.0h1v1h-1zM597.6 500.5h1v1h-1zM598.9 502.6h1v1h-1zM603.6 506.8h1v1h-1z" fill="#1a1a1a" fill-opacity="0.9"/><path d="M395.9 64.1h1v1h-1zM398.6 65.8h1v1h-1zM400.7 66.4h1v1h-1zM401.2 63.6h1v1h-1zM398.3 69.1h1v1h-1zM400.9 65.5h1v1h-1zM399.1 68.3h1v1h-1zM400.2 67.7h1v1h-1zM399.5 69.4h1v1h-1zM407.2 74.0h1v1h-1zM406.2 73.8h1v1h-1zM409.7 74.6h1v1h-1zM406.9 74.4h1v1h-1zM415.7 81.9h1v1h-1zM413.7 79.8h1v1h-1zM415.4 80.2h1v1h-1zM418.9 78.1h1v1h-1zM417.4 82.4h1v1h-1zM419.3 86.1h1v1h-1zM425.9 84.0h1v1h-1zM425.2 85.1h1v1h-1zM420.5 80.2h1v1h-1zM423.1 89.1h1v1h-1zM427.4 94.9h1v1h-1zM430.8 95.6h1v1h-1zM430.5 93.1h1v1h-1zM429.8 92.8h1v1h-1zM431.7 98.1h1v1h-1zM429.9 97.4h1v1h-1zM436.5 100.1h1v1h-1zM436.8 94.5h1v1h-1zM431.1 96.5h1v1h-1zM439.4 101.8h1v1h-1zM441.5 98.7h1v1h-1zM439.3 101.8h1v1h-1zM441.3 96.5h1v1h-1zM444.0 97.0h1v1h-1zM448.9 106.3h1v1h-1zM452.3 107.1h1v1h-1zM446.3 104.9h1v1h-1zM445.6 101.8h1v1h-1zM447.4 99.3h1v1h-1zM457.0 108.9h1v1h-1zM457.0 108.6h1v1h-1zM458.1 109.2h1v1h-1zM465.7 106.1h1v1h-1zM459.6 109.5h1v1h-1zM465.3 107.0h1v1h-1zM463.7 109.9h1v1h-1zM469.1 111.4h1v1h-1zM468.2 111.0h1v1h-1zM479.7 107.0h1v1h-1zM479.3 110.1h1v1h-1zM475.8 110.3h1v1h-1zM477.2 110.4h1v1h-1zM479.5 105.3h1v1h-1zM474.9 108.9h1v1h-1zM480.3 109.5h1v1h-1zM476.5 108.9h1v1h-1zM480.1 106.7h1v1h-1zM474.4 108.6h1v1h-1zM484.1 106.5h1v1h-1zM484.8 102.5h1v1h-1zM488.2 103.9h1v1h-1zM485.3 101.6h1v1h-1zM493.8 105.2h1v1h-1zM490.9 100.1h1v1h-1zM491.4 103.2h1v1h-1zM495.1 105.6h1v1h-1zM494.7 102.8h1v1h-1zM501.4 105.9h1v1h-1zM502.4 100.3h1v1h-1zM499.4 101.9h1v1h-1zM508.3 104.1h1v1h-1zM508.2 103.3h1v1h-1zM509.4 103.0h1v1h-1zM513.5 100.1h1v1h-1zM511.1 100.9h1v1h-1zM511.3 98.9h1v1h-1zM521.4 92.7h1v1h-1zM520.8 96.8h1v1h-1zM515.1 96.1h1v1h-1zM528.1 94.6h1v1h-1zM533.8 95.4h1v1h-1zM534.2 96.9h1v1h-1zM534.3 99.6h1v1h-1zM536.4 95.8h1v1h-1zM534.6 98.7h1v1h-1zM540.5 104.8h1v1h-1zM536.6 101.7h1v1h-1zM538.7 101.7h1v1h-1zM540.5 102.1h1v1h-1zM537.7 103.0h1v1h-1zM543.4 103.3h1v1h-1zM545.6 108.7h1v1h-1zM549.3 110.0h1v1h-1zM544.2 108.2h1v1h-1zM544.4 107.2h1v1h-1zM546.0 109.7h1v1h-1zM544.1 108.8h1v1h-1zM557.2 114.9h1v1h-1zM556.2 112.6h1v1h-1zM552.7 109.5h1v1h-1zM557.9 124.1h1v1h-1zM560.9 121.6h1v1h-1zM557.6 125.3h1v1h-1zM554.8 121.1h1v1h-1zM556.7 123.7h1v1h-1zM558.3 125.0h1v1h-1zM564.0 124.4h1v1h-1zM561.1 128.2h1v1h-1zM561.0 128.9h1v1h-1zM563.7 126.2h1v1h-1zM567.8 139.1h1v1h-1zM567.6 139.9h1v1h-1zM565.7 138.7h1v1h-1zM566.1 139.9h1v1h-1zM574.8 146.1h1v1h-1zM570.8 147.3h1v1h-1zM575.4 150.0h1v1h-1zM578.3 153.3h1v1h-1zM572.4 149.8h1v1h-1zM574.2 153.2h1v1h-1zM574.3 154.3h1v1h-1zM578.0 148.8h1v1h-1zM579.7 164.4h1v1h-1zM580.5 163.5h1v1h-1zM577.3 156.1h1v1h-1zM577.8 157.5h1v1h-1zM581.6 159.2h1v1h-1zM582.3 163.5h1v1h-1zM578.7 162.7h1v1h-1zM579.7 162.9h1v1h-1zM578.0 159.1h1v1h-1zM583.7 171.2h1v1h-1zM583.5 175.1h1v1h-1zM582.8 174.3h1v1h-1zM588.5 176.3h1v1h-1zM584.2 179.2h1v1h-1zM584.3 179.0h1v1h-1zM587.2 178.9h1v1h-1zM589.0 187.7h1v1h-1zM589.3 181.5h1v1h-1zM586.7 186.5h1v1h-1zM590.7 183.8h1v1h-1zM587.2 186.3h1v1h-1zM588.9 188.3h1v1h-1zM587.3 182.4h1v1h-1zM585.5 196.2h1v1h-1zM585.3 194.1h1v1h-1zM590.5 196.1h1v1h-1zM584.6 196.2h1v1h-1zM587.6 192.0h1v1h-1zM591.4 195.7h1v1h-1zM587.6 195.3h1v1h-1zM586.4 196.3h1v1h-1zM587.2 195.2h1v1h-1zM587.8 192.9h1v1h-1zM588.3 190.1h1v1h-1zM583.5 207.7h1v1h-1zM583.1 203.7h1v1h-1zM582.9 204.6h1v1h-1zM586.0 200.0h1v1h-1zM583.8 199.4h1v1h-1zM584.7 198.7h1v1h-1zM581.2 209.4h1v1h-1zM582.4 213.5h1v1h-1zM582.1 217.3h1v1h-1zM579.4 216.7h1v1h-1zM582.2 214.3h1v1h-1zM580.0 218.8h1v1h-1zM578.4 225.4h1v1h-1zM581.6 222.9h1v1h-1zM578.5 223.4h1v1h-1zM580.2 219.8h1v1h-1zM579.0 225.0h1v1h-1zM578.6 221.7h1v1h-1zM580.5 236.6h1v1h-1zM577.0 237.1h1v1h-1zM580.4 234.5h1v1h-1zM578.0 240.1h1v1h-1zM578.0 231.6h1v1h-1zM580.6 237.2h1v1h-1zM577.4 232.8h1v1h-1zM582.4 241.1h1v1h-1zM578.8 246.6h1v1h-1zM580.0 242.3h1v1h-1zM579.2 241.7h1v1h-1zM577.4 258.9h1v1h-1zM576.9 254.7h1v1h-1zM573.2 262.1h1v1h-1zM577.6 261.5h1v1h-1zM573.5 262.8h1v1h-1zM573.7 258.3h1v1h-1zM574.6 257.8h1v1h-1zM574.2 254.6h1v1h-1zM573.6 258.9h1v1h-1zM572.1 271.0h1v1h-1zM575.3 270.4h1v1h-1zM575.1 270.2h1v1h-1zM574.2 266.5h1v1h-1zM569.4 270.1h1v1h-1zM575.5 268.6h1v1h-1zM569.0 271.3h1v1h-1zM574.0 269.2h1v1h-1zM570.1 268.0h1v1h-1zM569.7 267.1h1v1h-1zM564.6 278.4h1v1h-1zM566.6 277.0h1v1h-1zM565.8 277.1h1v1h-1zM567.8 280.2h1v1h-1zM569.9 274.2h1v1h-1zM567.5 279.7h1v1h-1zM569.2 279.4h1v1h-1zM569.5 280.4h1v1h-1zM569.2 272.5h1v1h-1zM566.7 273.4h1v1h-1zM562.0 290.3h1v1h-1zM560.6 283.0h1v1h-1zM557.8 286.4h1v1h-1zM563.4 286.4h1v1h-1zM561.1 286.3h1v1h-1zM547.6 298.9h1v1h-1zM550.9 293.8h1v1h-1zM544.5 296.8h1v1h-1zM543.3 296.2h1v1h-1zM543.1 300.8h1v1h-1zM538.1 292.3h1v1h-1zM538.1 292.0h1v1h-1zM541.5 293.9h1v1h-1zM536.7 290.7h1v1h-1zM536.0 291.6h1v1h-1zM534.9 286.1h1v1h-1zM532.8 284.4h1v1h-1zM531.6 283.5h1v1h-1zM530.4 286.2h1v1h-1zM528.2 283.3h1v1h-1zM527.1 285.5h1v1h-1zM523.0 280.4h1v1h-1zM524.5 281.4h1v1h-1zM521.9 281.5h1v1h-1zM519.5 285.3h1v1h-1zM519.9 284.1h1v1h-1zM518.6 287.2h1v1h-1zM520.9 284.1h1v1h-1zM524.8 287.1h1v1h-1zM522.7 284.4h1v1h-1zM520.2 294.4h1v1h-1zM519.0 293.9h1v1h-1zM516.7 294.2h1v1h-1zM515.2 292.7h1v1h-1zM516.5 293.7h1v1h-1zM518.6 295.5h1v1h-1zM514.6 294.9h1v1h-1zM513.3 298.4h1v1h-1zM518.1 301.9h1v1h-1zM517.0 303.1h1v1h-1zM513.9 303.0h1v1h-1zM513.9 302.3h1v1h-1zM514.0 306.5h1v1h-1zM512.1 308.4h1v1h-1zM513.8 306.7h1v1h-1zM511.0 304.1h1v1h-1zM506.1 309.1h1v1h-1zM507.6 308.0h1v1h-1zM510.1 311.9h1v1h-1zM513.6 316.5h1v1h-1zM509.9 313.4h1v1h-1zM513.2 315.9h1v1h-1zM513.6 318.6h1v1h-1zM521.4 318.8h1v1h-1zM528.7 319.1h1v1h-1zM527.5 321.1h1v1h-1zM529.7 323.5h1v1h-1zM529.2 328.9h1v1h-1zM529.7 326.2h1v1h-1zM533.1 328.5h1v1h-1zM526.8 329.9h1v1h-1zM532.3 332.1h1v1h-1zM528.1 331.8h1v1h-1zM528.9 333.9h1v1h-1zM527.0 337.7h1v1h-1zM527.9 333.7h1v1h-1zM523.2 340.2h1v1h-1zM528.3 344.0h1v1h-1zM528.9 343.2h1v1h-1zM527.6 341.5h1v1h-1zM520.1 340.6h1v1h-1zM517.8 342.0h1v1h-1zM515.5 341.2h1v1h-1zM516.7 344.4h1v1h-1zM519.0 341.4h1v1h-1zM516.5 345.5h1v1h-1zM520.6 345.7h1v1h-1zM520.8 344.4h1v1h-1zM519.7 349.7h1v1h-1zM519.7 349.0h1v1h-1zM520.5 348.2h1v1h-1zM521.2 357.3h1v1h-1zM521.9 357.3h1v1h-1zM523.3 351.8h1v1h-1zM520.7 353.9h1v1h-1zM520.7 353.6h1v1h-1zM520.9 357.6h1v1h-1zM521.8 362.1h1v1h-1zM522.6 358.4h1v1h-1zM522.2 360.7h1v1h-1zM521.4 361.1h1v1h-1zM528.6 370.0h1v1h-1zM529.0 368.4h1v1h-1zM526.4 364.9h1v1h-1zM531.2 370.6h1v1h-1zM526.2 377.9h1v1h-1zM532.3 379.0h1v1h-1zM531.1 378.6h1v1h-1zM526.4 376.6h1v1h-1zM527.1 377.0h1v1h-1zM526.8 375.5h1v1h-1zM528.8 375.6h1v1h-1zM528.5 385.3h1v1h-1zM529.5 388.7h1v1h-1zM533.1 394.9h1v1h-1zM530.8 389.6h1v1h-1zM530.3 391.4h1v1h-1zM533.1 388.6h1v1h-1zM530.8 389.7h1v1h-1zM531.6 389.4h1v1h-1zM532.1 388.7h1v1h-1zM536.6 396.2h1v1h-1zM535.3 396.1h1v1h-1zM535.0 398.0h1v1h-1zM533.8 398.9h1v1h-1zM534.8 401.8h1v1h-1zM536.8 395.7h1v1h-1zM536.3 406.7h1v1h-1zM535.1 406.9h1v1h-1zM535.3 407.8h1v1h-1zM537.2 412.4h1v1h-1zM541.8 413.7h1v1h-1zM538.0 415.4h1v1h-1zM536.0 411.7h1v1h-1zM542.5 422.0h1v1h-1zM537.6 422.9h1v1h-1zM542.9 428.4h1v1h-1zM541.8 429.0h1v1h-1zM538.1 425.3h1v1h-1zM537.5 424.6h1v1h-1zM537.8 430.6h1v1h-1zM539.8 423.5h1v1h-1zM541.8 428.5h1v1h-1zM539.9 430.1h1v1h-1zM536.9 425.2h1v1h-1zM540.7 440.0h1v1h-1zM540.6 438.7h1v1h-1zM543.2 432.2h1v1h-1zM540.7 437.9h1v1h-1zM542.4 436.7h1v1h-1zM544.8 447.5h1v1h-1zM545.5 448.6h1v1h-1zM546.2 445.1h1v1h-1zM541.4 448.8h1v1h-1zM540.3 447.8h1v1h-1zM541.6 446.1h1v1h-1zM540.9 446.2h1v1h-1zM541.9 455.4h1v1h-1zM543.3 453.5h1v1h-1zM540.9 456.8h1v1h-1zM539.0 457.8h1v1h-1zM543.1 453.1h1v1h-1zM538.8 456.2h1v1h-1zM540.7 451.2h1v1h-1zM540.7 457.8h1v1h-1zM542.5 452.7h1v1h-1zM546.9 457.5h1v1h-1zM544.7 460.8h1v1h-1zM548.0 460.8h1v1h-1zM544.9 461.4h1v1h-1zM551.4 466.1h1v1h-1zM552.5 467.8h1v1h-1zM558.5 471.6h1v1h-1zM557.1 468.3h1v1h-1zM565.6 471.7h1v1h-1zM560.8 472.7h1v1h-1zM562.3 477.1h1v1h-1zM561.8 474.6h1v1h-1zM567.2 478.1h1v1h-1zM567.2 481.7h1v1h-1zM563.8 479.2h1v1h-1zM570.0 483.1h1v1h-1zM569.0 484.7h1v1h-1zM570.6 481.3h1v1h-1zM570.2 483.2h1v1h-1zM569.0 483.4h1v1h-1zM569.2 485.7h1v1h-1zM573.1 490.8h1v1h-1zM571.1 484.5h1v1h-1zM570.4 486.7h1v1h-1zM577.1 491.3h1v1h-1zM579.2 495.3h1v1h-1zM580.4 494.6h1v1h-1zM581.4 491.2h1v1h-1zM582.1 496.7h1v1h-1zM591.1 493.7h1v1h-1zM589.8 493.1h1v1h-1zM587.1 494.7h1v1h-1zM592.1 493.9h1v1h-1zM593.5 499.2h1v1h-1zM598.1 505.9h1v1h-1zM601.7 507.9h1v1h-1zM605.4 504.4h1v1h-1z" fill="#1a1a1a" fill-opacity="0.75"/><path d="M401.9 68.9h1v1h-1zM403.4 66.5h1v1h-1zM409.8 69.7h1v1h-1zM414.7 74.1h1v1h-1zM419.8 86.5h1v1h-1zM419.3 86.0h1v1h-1zM423.8 88.7h1v1h-1zM422.2 86.0h1v1h-1zM418.6 81.4h1v1h-1zM426.2 92.7h1v1h-1zM430.1 94.3h1v1h-1zM425.4 88.1h1v1h-1zM425.9 93.1h1v1h-1zM434.5 94.5h1v1h-1zM432.3 98.2h1v1h-1zM430.3 96.3h1v1h-1zM436.5 97.2h1v1h-1zM444.8 104.5h1v1h-1zM447.0 104.6h1v1h-1zM446.2 104.2h1v1h-1zM455.9 104.9h1v1h-1zM455.2 108.1h1v1h-1zM454.6 107.1h1v1h-1zM461.5 109.6h1v1h-1zM465.4 110.5h1v1h-1zM460.2 106.8h1v1h-1zM461.9 110.3h1v1h-1zM467.4 107.9h1v1h-1zM476.1 108.7h1v1h-1zM475.9 108.2h1v1h-1zM480.2 108.7h1v1h-1zM478.6 108.2h1v1h-1zM480.6 109.4h1v1h-1zM485.6 99.4h1v1h-1zM483.9 99.9h1v1h-1zM492.6 104.5h1v1h-1zM504.0 104.3h1v1h-1zM497.8 105.9h1v1h-1zM495.6 105.2h1v1h-1zM507.8 103.1h1v1h-1zM506.8 103.2h1v1h-1zM504.3 102.5h1v1h-1zM507.1 104.9h1v1h-1zM512.5 103.3h1v1h-1zM515.3 100.4h1v1h-1zM512.1 101.0h1v1h-1zM515.6 92.6h1v1h-1zM527.6 94.2h1v1h-1zM524.1 93.9h1v1h-1zM526.8 92.6h1v1h-1zM533.0 98.7h1v1h-1zM530.5 98.0h1v1h-1zM531.8 94.6h1v1h-1zM536.1 101.1h1v1h-1zM541.9 104.5h1v1h-1zM540.8 101.8h1v1h-1zM551.4 109.0h1v1h-1zM545.5 109.9h1v1h-1zM545.5 109.1h1v1h-1zM553.8 112.1h1v1h-1zM551.0 116.2h1v1h-1zM552.2 117.5h1v1h-1zM560.2 121.3h1v1h-1zM556.3 118.7h1v1h-1zM557.3 121.3h1v1h-1zM559.0 125.2h1v1h-1zM560.9 129.5h1v1h-1zM565.3 132.1h1v1h-1zM560.2 127.0h1v1h-1zM564.0 134.7h1v1h-1zM569.5 136.8h1v1h-1zM566.4 139.8h1v1h-1zM563.8 135.8h1v1h-1zM572.7 147.9h1v1h-1zM568.6 144.3h1v1h-1zM571.0 142.5h1v1h-1zM573.6 150.6h1v1h-1zM579.2 152.5h1v1h-1zM572.2 150.4h1v1h-1zM578.1 160.9h1v1h-1zM578.8 162.6h1v1h-1zM579.3 155.9h1v1h-1zM581.7 164.3h1v1h-1zM582.7 173.0h1v1h-1zM583.5 176.8h1v1h-1zM583.7 178.1h1v1h-1zM585.1 182.0h1v1h-1zM584.9 181.4h1v1h-1zM589.8 192.1h1v1h-1zM583.1 202.9h1v1h-1zM588.6 202.8h1v1h-1zM585.2 201.0h1v1h-1zM582.4 205.5h1v1h-1zM582.4 204.6h1v1h-1zM581.7 208.1h1v1h-1zM584.9 214.0h1v1h-1zM587.5 209.7h1v1h-1zM582.3 207.7h1v1h-1zM583.5 215.4h1v1h-1zM582.8 213.2h1v1h-1zM580.8 211.0h1v1h-1zM585.6 211.3h1v1h-1zM579.7 221.0h1v1h-1zM581.9 218.9h1v1h-1zM581.3 219.0h1v1h-1zM579.7 224.9h1v1h-1zM581.1 241.0h1v1h-1zM578.0 231.9h1v1h-1zM580.6 230.8h1v1h-1zM575.0 253.2h1v1h-1zM581.4 249.0h1v1h-1zM580.8 243.2h1v1h-1zM578.1 260.6h1v1h-1zM574.0 256.7h1v1h-1zM574.6 262.1h1v1h-1zM575.3 261.7h1v1h-1zM569.6 267.3h1v1h-1zM570.7 265.8h1v1h-1zM570.2 271.7h1v1h-1zM571.0 267.2h1v1h-1zM570.8 265.8h1v1h-1zM566.4 280.5h1v1h-1zM564.7 278.8h1v1h-1zM566.1 274.6h1v1h-1zM566.4 279.9h1v1h-1zM569.7 278.4h1v1h-1zM571.1 276.8h1v1h-1zM564.9 285.2h1v1h-1zM557.7 286.1h1v1h-1zM562.3 289.7h1v1h-1zM558.3 286.8h1v1h-1zM562.5 289.4h1v1h-1zM565.8 283.3h1v1h-1zM555.8 289.7h1v1h-1zM559.2 292.0h1v1h-1zM555.5 291.8h1v1h-1zM553.6 292.7h1v1h-1zM556.1 288.6h1v1h-1zM556.2 288.5h1v1h-1zM557.2 291.3h1v1h-1zM554.9 291.5h1v1h-1zM551.8 295.7h1v1h-1zM547.5 297.4h1v1h-1zM540.4 298.8h1v1h-1zM543.3 297.7h1v1h-1zM541.6 295.5h1v1h-1zM538.0 294.9h1v1h-1zM538.7 291.8h1v1h-1zM538.3 290.2h1v1h-1zM536.7 290.7h1v1h-1zM535.9 286.2h1v1h-1zM530.6 288.4h1v1h-1zM531.3 283.3h1v1h-1zM533.0 288.9h1v1h-1zM522.4 282.1h1v1h-1zM522.5 281.2h1v1h-1zM520.5 282.8h1v1h-1zM525.4 285.7h1v1h-1zM523.2 286.1h1v1h-1zM522.5 284.7h1v1h-1zM519.9 293.6h1v1h-1zM513.1 300.9h1v1h-1zM517.2 302.3h1v1h-1zM508.9 305.3h1v1h-1zM512.2 308.8h1v1h-1zM507.3 309.2h1v1h-1zM507.4 311.6h1v1h-1zM507.7 307.2h1v1h-1zM510.8 311.2h1v1h-1zM508.2 313.7h1v1h-1zM511.7 314.3h1v1h-1zM514.9 318.9h1v1h-1zM516.7 318.3h1v1h-1zM515.7 317.1h1v1h-1zM517.8 317.1h1v1h-1zM520.3 317.6h1v1h-1zM524.4 319.4h1v1h-1zM525.7 321.2h1v1h-1zM525.2 323.1h1v1h-1zM528.3 319.7h1v1h-1zM528.8 328.2h1v1h-1zM527.6 327.3h1v1h-1zM526.9 325.4h1v1h-1zM530.7 325.1h1v1h-1zM530.4 323.4h1v1h-1zM527.4 328.3h1v1h-1zM532.3 337.0h1v1h-1zM528.4 332.6h1v1h-1zM523.9 340.6h1v1h-1zM520.2 340.6h1v1h-1zM518.8 342.3h1v1h-1zM517.9 342.3h1v1h-1zM515.7 341.7h1v1h-1zM518.5 343.4h1v1h-1zM519.8 343.7h1v1h-1zM519.2 348.6h1v1h-1zM521.0 350.1h1v1h-1zM518.9 347.8h1v1h-1zM523.1 354.0h1v1h-1zM526.0 352.8h1v1h-1zM525.3 353.2h1v1h-1zM526.8 358.3h1v1h-1zM520.8 352.9h1v1h-1zM524.0 363.7h1v1h-1zM526.5 357.6h1v1h-1zM526.0 362.9h1v1h-1zM523.3 364.7h1v1h-1zM522.2 363.6h1v1h-1zM522.9 364.7h1v1h-1zM521.2 360.4h1v1h-1zM523.4 366.0h1v1h-1zM525.9 375.3h1v1h-1zM528.9 377.4h1v1h-1zM526.0 374.8h1v1h-1zM528.9 387.7h1v1h-1zM530.8 385.3h1v1h-1zM527.8 382.8h1v1h-1zM531.6 383.2h1v1h-1zM531.9 381.9h1v1h-1zM530.5 389.2h1v1h-1zM533.2 391.3h1v1h-1zM531.5 393.7h1v1h-1zM534.1 400.9h1v1h-1zM534.8 404.5h1v1h-1zM535.4 405.8h1v1h-1zM541.1 405.6h1v1h-1zM539.5 412.4h1v1h-1zM539.4 414.4h1v1h-1zM539.2 412.0h1v1h-1zM539.1 418.2h1v1h-1zM536.7 421.5h1v1h-1zM538.5 419.5h1v1h-1zM538.7 426.6h1v1h-1zM540.9 440.5h1v1h-1zM544.3 433.7h1v1h-1zM541.5 435.5h1v1h-1zM539.2 436.1h1v1h-1zM541.9 444.1h1v1h-1zM544.9 443.0h1v1h-1zM542.6 441.4h1v1h-1zM544.4 453.4h1v1h-1zM545.1 453.5h1v1h-1zM541.3 452.6h1v1h-1zM541.2 458.8h1v1h-1zM542.6 453.9h1v1h-1zM543.4 458.8h1v1h-1zM542.2 457.6h1v1h-1zM548.7 463.2h1v1h-1zM547.3 463.7h1v1h-1zM545.1 459.7h1v1h-1zM556.7 464.2h1v1h-1zM551.9 464.6h1v1h-1zM554.6 467.4h1v1h-1zM557.5 470.5h1v1h-1zM559.4 470.0h1v1h-1zM558.4 471.6h1v1h-1zM555.8 469.6h1v1h-1zM557.7 471.0h1v1h-1zM562.5 476.0h1v1h-1zM564.7 470.2h1v1h-1zM567.9 480.3h1v1h-1zM567.2 479.3h1v1h-1zM564.0 480.4h1v1h-1zM568.8 488.6h1v1h-1zM570.2 487.2h1v1h-1zM573.5 492.8h1v1h-1zM576.9 492.1h1v1h-1zM577.9 491.0h1v1h-1zM593.3 498.3h1v1h-1zM591.7 500.1h1v1h-1zM594.3 496.4h1v1h-1zM593.8 495.3h1v1h-1zM597.2 504.5h1v1h-1zM603.2 504.5h1v1h-1z" fill="#a8f5a8" fill-opacity="1.0"/><path d="M613.2 181.2h1v1h-1zM614.9 177.3h1v1h-1zM612.5 187.9h1v1h-1zM613.4 191.0h1v1h-1zM611.4 168.4h1v1h-1zM616.3 168.3h1v1h-1zM612.7 177.0h1v1h-1zM608.0 171.4h1v1h-1zM607.7 176.7h1v1h-1zM616.1 177.1h1v1h-1zM612.8 189.3h1v1h-1zM542.0 87.1h1v1h-1zM536.7 88.2h1v1h-1zM540.7 100.8h1v1h-1zM536.2 96.2h1v1h-1z" fill="#d8f28c" fill-opacity="1.0"/><path d="M613.1 188.1h1v1h-1zM609.8 180.0h1v1h-1zM608.7 175.1h1v1h-1zM614.2 188.9h1v1h-1zM615.7 182.5h1v1h-1zM615.3 187.5h1v1h-1zM608.2 172.5h1v1h-1zM613.0 187.8h1v1h-1zM615.5 179.7h1v1h-1zM613.2 174.5h1v1h-1zM616.3 175.4h1v1h-1zM613.9 168.7h1v1h-1zM608.3 168.4h1v1h-1zM610.2 189.8h1v1h-1zM612.7 181.3h1v1h-1zM617.2 174.3h1v1h-1zM617.0 170.8h1v1h-1zM617.5 172.2h1v1h-1zM613.1 172.5h1v1h-1zM620.0 168.5h1v1h-1zM612.4 188.1h1v1h-1zM617.9 177.1h1v1h-1zM608.6 181.7h1v1h-1zM609.1 181.8h1v1h-1zM618.3 172.3h1v1h-1zM611.4 173.4h1v1h-1zM616.6 171.7h1v1h-1zM615.0 177.9h1v1h-1zM538.3 88.8h1v1h-1zM537.0 93.7h1v1h-1zM538.2 100.7h1v1h-1zM539.6 87.0h1v1h-1zM538.3 94.5h1v1h-1zM543.8 96.5h1v1h-1zM543.3 97.2h1v1h-1zM536.5 91.0h1v1h-1zM541.9 100.4h1v1h-1zM536.7 93.6h1v1h-1z" fill="#b4f7b4" fill-opacity="1.0"/><path d="M615.0 186.3h1v1h-1zM612.8 173.0h1v1h-1zM618.3 190.9h1v1h-1zM610.7 186.2h1v1h-1zM608.9 180.0h1v1h-1zM610.5 184.6h1v1h-1zM544.0 87.2h1v1h-1zM542.3 100.6h1v1h-1z" fill="#a6f2e6" fill-opacity="1.0"/></g>
<path d="M395.2 62.5 L398.9 69.9 L404.2 73.1 L410.6 77.4 L417.0 83.8 L423.4 90.2 L429.8 97.7 L437.3 100.9 L444.7 105.1 L453.3 108.3 L459.7 110.9 L466.1 112.2 L474.6 111.5 L483.1 110.9 L485.3 106.2 L489.5 104.5 L496.0 106.2 L504.5 107.3 L510.9 106.2 L517.3 99.8 L523.6 95.9 L529.1 97.7 L535.7 101.4 L542.2 106.9 L548.8 113.5 L554.3 120.0 L558.6 126.6 L563.0 134.3 L567.4 141.9 L571.8 149.6 L576.2 157.3 L580.5 166.0 L582.7 172.6 L584.9 181.3 L587.2 190.0 L584.8 197.7 L582.2 207.9 L579.6 218.1 L578.4 228.3 L577.1 241.1 L574.5 253.9 L572.0 264.1 L568.1 271.8 L563.0 280.7 L556.6 288.4 L551.5 293.5 L546.4 297.3 L542.6 294.8 L540.0 289.6 L536.2 285.8 L531.1 283.3 L527.3 280.7 L523.4 279.4 L520.9 283.3 L518.3 289.6 L515.8 292.2 L514.5 297.3 L511.9 302.4 L508.1 307.5 L505.5 310.2 L508.1 315.3 L513.2 319.2 L520.9 320.4 L526.0 324.3 L527.3 330.7 L527.3 338.3 L522.2 340.9 L515.8 340.9 L517.0 346.0 L520.9 351.1 L520.9 358.8 L523.4 366.4 L526.0 374.1 L527.3 381.8 L529.8 389.4 L532.4 397.1 L534.9 404.8 L536.2 411.5 L537.2 417.5 L536.2 424.1 L538.3 432.9 L541.6 441.6 L540.5 450.4 L538.3 458.1 L543.8 460.3 L550.4 466.8 L556.0 470.5 L560.0 472.8 L562.8 477.8 L565.7 484.2 L568.5 488.5 L574.2 493.5 L579.9 497.0 L585.6 498.5 L590.6 500.6 L595.6 504.2 L601.3 508.4 L602.5 509.5" fill="none" stroke="#1a1a1a" stroke-width="1.1"/>
<g shape-rendering="crispEdges">
<line x1="171.5" y1="514.5" x2="171.5" y2="62.5" stroke="#808080" stroke-opacity="0.75" stroke-dasharray="6 6"/>
<line x1="279.5" y1="514.5" x2="279.5" y2="62.5" stroke="#808080" stroke-opacity="0.75" stroke-dasharray="6 6"/>
<line x1="388.5" y1="514.5" x2="388.5" y2="62.5" stroke="#808080" stroke-opacity="0.75" stroke-dasharray="6 6"/>
<line x1="496.5" y1="514.5" x2="496.5" y2="62.5" stroke="#808080" stroke-opacity="0.75" stroke-dasharray="6 6"/>
<line x1="604.5" y1="514.5" x2="604.5" y2="62.5" stroke="#808080" stroke-opacity="0.75" stroke-dasharray="6 6"/>
<line x1="63.5" y1="84.5" x2="620.5" y2="84.5" stroke="#808080" stroke-opacity="0.75" stroke-dasharray="6 6"/>
<line x1="63.5" y1="174.5" x2="620.5" y2="174.5" stroke="#808080" stroke-opacity="0.75" stroke-dasharray="6 6"/>
<line x1="63.5" y1="264.5" x2="620.5" y2="264.5" stroke="#808080" stroke-opacity="0.75" stroke-dasharray="6 6"/>
<line x1="63.5" y1="354.5" x2="620.5" y2="354.5" stroke="#808080" stroke-opacity="0.75" stroke-dasharray="6 6"/>
<line x1="63.5" y1="443.5" x2="620.5" y2="443.5" stroke="#808080" stroke-opacity="0.75" stroke-dasharray="6 6"/>
<line x1="63.5" y1="514.5" x2="63.5" y2="57.5" stroke="#8a8a8a" stroke-dasharray="6 6"/>
</g>
<g>
<rect x="63.5" y="57.5" width="562.0" height="457.0" fill="none" stroke="#b4b4b4" stroke-width="1"/>
<rect x="69.5" y="62.5" width="551.0" height="447.0" fill="none" stroke="#b4b4b4" stroke-width="1"/>
<line x1="63.5" y1="57.5" x2="69.5" y2="62.5" stroke="#707070"/>
<line x1="625.5" y1="57.5" x2="620.5" y2="62.5" stroke="#707070"/>
<line x1="63.5" y1="514.5" x2="69.5" y2="509.5" stroke="#707070"/>
<line x1="625.5" y1="514.5" x2="620.5" y2="509.5" stroke="#707070"/>
<line x1="117.5" y1="57.5" x2="117.5" y2="62.5" stroke="#7a7a7a"/>
<line x1="117.5" y1="509.5" x2="117.5" y2="514.5" stroke="#7a7a7a"/>
<line x1="69.5" y1="512" x2="117.5" y2="512" stroke="#8a8a8a" stroke-width="1.3"/>
<line x1="171.5" y1="57.5" x2="171.5" y2="62.5" stroke="#7a7a7a"/>
<line x1="171.5" y1="509.5" x2="171.5" y2="514.5" stroke="#7a7a7a"/>
<line x1="117.5" y1="60" x2="171.5" y2="60" stroke="#8a8a8a" stroke-width="1.3"/>
<line x1="225.5" y1="57.5" x2="225.5" y2="62.5" stroke="#7a7a7a"/>
<line x1="225.5" y1="509.5" x2="225.5" y2="514.5" stroke="#7a7a7a"/>
<line x1="171.5" y1="512" x2="225.5" y2="512" stroke="#8a8a8a" stroke-width="1.3"/>
<line x1="279.5" y1="57.5" x2="279.5" y2="62.5" stroke="#7a7a7a"/>
<line x1="279.5" y1="509.5" x2="279.5" y2="514.5" stroke="#7a7a7a"/>
<line x1="225.5" y1="60" x2="279.5" y2="60" stroke="#8a8a8a" stroke-width="1.3"/>
<line x1="334" y1="57.5" x2="334" y2="62.5" stroke="#7a7a7a"/>
<line x1="334" y1="509.5" x2="334" y2="514.5" stroke="#7a7a7a"/>
<line x1="279.5" y1="512" x2="334" y2="512" stroke="#8a8a8a" stroke-width="1.3"/>
<line x1="388.5" y1="57.5" x2="388.5" y2="62.5" stroke="#7a7a7a"/>
<line x1="388.5" y1="509.5" x2="388.5" y2="514.5" stroke="#7a7a7a"/>
<line x1="334" y1="60" x2="388.5" y2="60" stroke="#8a8a8a" stroke-width="1.3"/>
<line x1="442.5" y1="57.5" x2="442.5" y2="62.5" stroke="#7a7a7a"/>
<line x1="442.5" y1="509.5" x2="442.5" y2="514.5" stroke="#7a7a7a"/>
<line x1="388.5" y1="512" x2="442.5" y2="512" stroke="#8a8a8a" stroke-width="1.3"/>
<line x1="496.5" y1="57.5" x2="496.5" y2="62.5" stroke="#7a7a7a"/>
<line x1="496.5" y1="509.5" x2="496.5" y2="514.5" stroke="#7a7a7a"/>
<line x1="442.5" y1="60" x2="496.5" y2="60" stroke="#8a8a8a" stroke-width="1.3"/>
<line x1="550.5" y1="57.5" x2="550.5" y2="62.5" stroke="#7a7a7a"/>
<line x1="550.5" y1="509.5" x2="550.5" y2="514.5" stroke="#7a7a7a"/>
<line x1="496.5" y1="512" x2="550.5" y2="512" stroke="#8a8a8a" stroke-width="1.3"/>
<line x1="604.5" y1="57.5" x2="604.5" y2="62.5" stroke="#7a7a7a"/>
<line x1="604.5" y1="509.5" x2="604.5" y2="514.5" stroke="#7a7a7a"/>
<line x1="550.5" y1="60" x2="604.5" y2="60" stroke="#8a8a8a" stroke-width="1.3"/>
<line x1="614.5" y1="57.5" x2="614.5" y2="62.5" stroke="#7a7a7a"/>
<line x1="614.5" y1="509.5" x2="614.5" y2="514.5" stroke="#7a7a7a"/>
<line x1="604.5" y1="512" x2="614.5" y2="512" stroke="#8a8a8a" stroke-width="1.3"/>
<line x1="614.5" y1="60" x2="620.5" y2="60" stroke="#8a8a8a" stroke-width="1.3"/>
<line x1="63.5" y1="70.5" x2="69.5" y2="70.5" stroke="#7a7a7a"/>
<line x1="620.5" y1="70.5" x2="625.5" y2="70.5" stroke="#7a7a7a"/>
<line x1="622.5" y1="62.5" x2="622.5" y2="70.5" stroke="#8a8a8a" stroke-width="1.1"/>
<line x1="63.5" y1="84.5" x2="69.5" y2="84.5" stroke="#7a7a7a"/>
<line x1="620.5" y1="84.5" x2="625.5" y2="84.5" stroke="#7a7a7a"/>
<line x1="66.5" y1="70.5" x2="66.5" y2="84.5" stroke="#8a8a8a" stroke-width="1.1"/>
<line x1="63.5" y1="129.5" x2="69.5" y2="129.5" stroke="#7a7a7a"/>
<line x1="620.5" y1="129.5" x2="625.5" y2="129.5" stroke="#7a7a7a"/>
<line x1="622.5" y1="84.5" x2="622.5" y2="129.5" stroke="#8a8a8a" stroke-width="1.1"/>
<line x1="63.5" y1="174.5" x2="69.5" y2="174.5" stroke="#7a7a7a"/>
<line x1="620.5" y1="174.5" x2="625.5" y2="174.5" stroke="#7a7a7a"/>
<line x1="66.5" y1="129.5" x2="66.5" y2="174.5" stroke="#8a8a8a" stroke-width="1.1"/>
<line x1="63.5" y1="219.5" x2="69.5" y2="219.5" stroke="#7a7a7a"/>
<line x1="620.5" y1="219.5" x2="625.5" y2="219.5" stroke="#7a7a7a"/>
<line x1="622.5" y1="174.5" x2="622.5" y2="219.5" stroke="#8a8a8a" stroke-width="1.1"/>
<line x1="63.5" y1="264.5" x2="69.5" y2="264.5" stroke="#7a7a7a"/>
<line x1="620.5" y1="264.5" x2="625.5" y2="264.5" stroke="#7a7a7a"/>
<line x1="66.5" y1="219.5" x2="66.5" y2="264.5" stroke="#8a8a8a" stroke-width="1.1"/>
<line x1="63.5" y1="309.5" x2="69.5" y2="309.5" stroke="#7a7a7a"/>
<line x1="620.5" y1="309.5" x2="625.5" y2="309.5" stroke="#7a7a7a"/>
<line x1="622.5" y1="264.5" x2="622.5" y2="309.5" stroke="#8a8a8a" stroke-width="1.1"/>
<line x1="63.5" y1="354.5" x2="69.5" y2="354.5" stroke="#7a7a7a"/>
<line x1="620.5" y1="354.5" x2="625.5" y2="354.5" stroke="#7a7a7a"/>
<line x1="66.5" y1="309.5" x2="66.5" y2="354.5" stroke="#8a8a8a" stroke-width="1.1"/>
<line x1="63.5" y1="399.5" x2="69.5" y2="399.5" stroke="#7a7a7a"/>
<line x1="620.5" y1="399.5" x2="625.5" y2="399.5" stroke="#7a7a7a"/>
<line x1="622.5" y1="354.5" x2="622.5" y2="399.5" stroke="#8a8a8a" stroke-width="1.1"/>
<line x1="63.5" y1="443.5" x2="69.5" y2="443.5" stroke="#7a7a7a"/>
<line x1="620.5" y1="443.5" x2="625.5" y2="443.5" stroke="#7a7a7a"/>
<line x1="66.5" y1="399.5" x2="66.5" y2="443.5" stroke="#8a8a8a" stroke-width="1.1"/>
<line x1="63.5" y1="479.5" x2="69.5" y2="479.5" stroke="#7a7a7a"/>
<line x1="620.5" y1="479.5" x2="625.5" y2="479.5" stroke="#7a7a7a"/>
<line x1="622.5" y1="443.5" x2="622.5" y2="479.5" stroke="#8a8a8a" stroke-width="1.1"/>
<line x1="66.5" y1="479.5" x2="66.5" y2="509.5" stroke="#8a8a8a" stroke-width="1.1"/>
</g>
<g>
<line x1="64.0" y1="51" x2="64.0" y2="57.5" stroke="#000" stroke-width="2"/>
<line x1="64.0" y1="514.5" x2="64.0" y2="521" stroke="#000" stroke-width="2"/>
<line x1="172.0" y1="51" x2="172.0" y2="57.5" stroke="#000" stroke-width="2"/>
<line x1="172.0" y1="514.5" x2="172.0" y2="521" stroke="#000" stroke-width="2"/>
<line x1="280.0" y1="51" x2="280.0" y2="57.5" stroke="#000" stroke-width="2"/>
<line x1="280.0" y1="514.5" x2="280.0" y2="521" stroke="#000" stroke-width="2"/>
<line x1="389.0" y1="51" x2="389.0" y2="57.5" stroke="#000" stroke-width="2"/>
<line x1="389.0" y1="514.5" x2="389.0" y2="521" stroke="#000" stroke-width="2"/>
<line x1="497.0" y1="51" x2="497.0" y2="57.5" stroke="#000" stroke-width="2"/>
<line x1="497.0" y1="514.5" x2="497.0" y2="521" stroke="#000" stroke-width="2"/>
<line x1="605.0" y1="51" x2="605.0" y2="57.5" stroke="#000" stroke-width="2"/>
<line x1="605.0" y1="514.5" x2="605.0" y2="521" stroke="#000" stroke-width="2"/>
<line x1="57" y1="84.5" x2="63.5" y2="84.5" stroke="#000" stroke-width="2"/>
<line x1="625.5" y1="84.5" x2="632" y2="84.5" stroke="#000" stroke-width="2"/>
<line x1="57" y1="174.5" x2="63.5" y2="174.5" stroke="#000" stroke-width="2"/>
<line x1="625.5" y1="174.5" x2="632" y2="174.5" stroke="#000" stroke-width="2"/>
<line x1="57" y1="264.5" x2="63.5" y2="264.5" stroke="#000" stroke-width="2"/>
<line x1="625.5" y1="264.5" x2="632" y2="264.5" stroke="#000" stroke-width="2"/>
<line x1="57" y1="354.5" x2="63.5" y2="354.5" stroke="#000" stroke-width="2"/>
<line x1="625.5" y1="354.5" x2="632" y2="354.5" stroke="#000" stroke-width="2"/>
<line x1="57" y1="443.5" x2="63.5" y2="443.5" stroke="#000" stroke-width="2"/>
<line x1="625.5" y1="443.5" x2="632" y2="443.5" stroke="#000" stroke-width="2"/>
</g>
<g>
<line x1="218.2" y1="89.3" x2="210.7" y2="93.1" stroke="#00ffff" stroke-width="1.7"/><path d="M205.5 95.8L210.0 90.1L210.8 93.1L212.7 95.4Z" fill="#00ffff"/>
<line x1="232.8" y1="89.3" x2="229.8" y2="90.9" stroke="#0080ff" stroke-width="1.7"/><path d="M224.8 93.8L229.1 87.9L229.9 90.9L232.0 93.2Z" fill="#0080ff"/>
<line x1="262.0" y1="89.3" x2="258.5" y2="89.1" stroke="#0080ff" stroke-width="1.7"/><path d="M252.8 88.8L259.5 86.1L258.6 89.1L259.2 92.1Z" fill="#0080ff"/>
<line x1="276.6" y1="89.3" x2="269.8" y2="89.3" stroke="#0080ff" stroke-width="1.7"/><path d="M264.0 89.2L270.6 86.3L269.9 89.3L270.6 92.3Z" fill="#0080ff"/>
<line x1="305.8" y1="89.3" x2="301.1" y2="91.8" stroke="#0080ff" stroke-width="1.7"/><path d="M296.0 94.5L300.4 88.8L301.2 91.7L303.2 94.1Z" fill="#0080ff"/>
<line x1="232.8" y1="103.9" x2="230.4" y2="105.1" stroke="#0080ff" stroke-width="1.7"/><path d="M225.2 107.8L229.8 102.1L230.3 105.2L232.5 107.4Z" fill="#0080ff"/>
<path d="M242.8 106.1L249.2 103.2L248.5 106.1L249.2 109.0Z" fill="#0000ff"/>
<line x1="276.6" y1="103.9" x2="274.5" y2="104.6" stroke="#0080ff" stroke-width="1.7"/><path d="M269.0 106.5L274.3 101.5L274.4 104.7L276.2 107.2Z" fill="#0080ff"/>
<line x1="291.2" y1="103.9" x2="285.9" y2="105.9" stroke="#0080ff" stroke-width="1.7"/><path d="M280.5 108.0L285.6 102.8L286.0 105.9L287.7 108.4Z" fill="#0080ff"/>
<path d="M524.5 110.4L521.6 104.0L524.5 104.7L527.4 104.0Z" fill="#0000ff"/>
<line x1="189.0" y1="118.5" x2="183.1" y2="122.5" stroke="#0080ff" stroke-width="1.7"/><path d="M178.2 125.8L182.0 119.6L183.1 122.5L185.4 124.6Z" fill="#0080ff"/>
<line x1="203.6" y1="118.5" x2="197.0" y2="123.2" stroke="#00ffff" stroke-width="1.7"/><path d="M192.2 126.5L195.9 120.2L197.1 123.1L199.4 125.2Z" fill="#00ffff"/>
<line x1="218.2" y1="118.5" x2="213.5" y2="120.8" stroke="#0080ff" stroke-width="1.7"/><path d="M208.2 123.2L212.9 117.7L213.6 120.7L215.5 123.1Z" fill="#0080ff"/>
<path d="M232.5 117.2L234.9 122.5L232.5 121.8L230.1 122.5Z" fill="#0000ff"/>
<path d="M247.1 117.1L249.6 122.5L247.1 121.8L244.6 122.5Z" fill="#0000ff"/>
<path d="M261.7 117.3L264.0 122.4L261.7 121.7L259.4 122.4Z" fill="#0000ff"/>
<line x1="291.2" y1="118.5" x2="287.6" y2="120.8" stroke="#0080ff" stroke-width="1.7"/><path d="M282.8 124.0L286.6 117.9L287.7 120.8L289.9 122.9Z" fill="#0080ff"/>
<line x1="305.8" y1="118.5" x2="301.7" y2="122.0" stroke="#0080ff" stroke-width="1.7"/><path d="M297.2 125.8L300.3 119.2L301.7 121.9L304.2 123.8Z" fill="#0080ff"/>
<path d="M422.3 125.0L419.4 118.6L422.3 119.3L425.2 118.6Z" fill="#0000ff"/>
<path d="M441.2 120.7L434.8 123.6L435.5 120.7L434.8 117.8Z" fill="#0080ff"/>
<path d="M455.6 120.7L449.5 123.5L450.2 120.7L449.5 117.9Z" fill="#0000ff"/>
<path d="M470.4 120.7L464.0 123.6L464.7 120.7L464.0 117.8Z" fill="#0080ff"/>
<line x1="481.0" y1="118.5" x2="474.8" y2="125.6" stroke="#00ffff" stroke-width="1.7"/><path d="M471.0 130.0L473.1 123.0L474.9 125.5L477.6 127.0Z" fill="#00ffff"/>
<line x1="495.6" y1="118.5" x2="490.1" y2="125.5" stroke="#00ffff" stroke-width="1.7"/><path d="M486.5 130.0L488.2 123.0L490.2 125.4L493.0 126.7Z" fill="#00ffff"/>
<line x1="510.2" y1="118.5" x2="508.3" y2="121.6" stroke="#0080ff" stroke-width="1.7"/><path d="M505.2 126.5L506.2 119.3L508.4 121.5L511.3 122.5Z" fill="#0080ff"/>
<path d="M524.5 117.5L526.7 122.3L524.5 122.3L522.3 122.3Z" fill="#0000ff"/>
<line x1="203.6" y1="133.1" x2="199.7" y2="136.5" stroke="#0080ff" stroke-width="1.7"/><path d="M195.2 140.2L198.3 133.7L199.7 136.4L202.2 138.2Z" fill="#0080ff"/>
<line x1="218.2" y1="133.1" x2="215.9" y2="135.2" stroke="#0080ff" stroke-width="1.7"/><path d="M211.5 139.0L214.5 132.4L215.8 135.2L218.4 136.9Z" fill="#0080ff"/>
<path d="M232.5 131.7L235.0 137.1L232.5 136.4L230.0 137.1Z" fill="#0000ff"/>
<path d="M250.3 135.3L245.5 137.5L245.5 135.3L245.5 133.1Z" fill="#0000ff"/>
<path d="M261.7 131.7L264.2 137.1L261.7 136.4L259.2 137.1Z" fill="#0000ff"/>
<path d="M276.3 131.8L278.7 137.0L276.3 136.3L273.9 137.0Z" fill="#0080ff"/>
<line x1="305.8" y1="133.1" x2="302.4" y2="136.7" stroke="#0080ff" stroke-width="1.7"/><path d="M298.5 141.0L300.8 134.1L302.5 136.7L305.2 138.2Z" fill="#0080ff"/>
<line x1="320.4" y1="133.1" x2="317.7" y2="136.3" stroke="#0080ff" stroke-width="1.7"/><path d="M314.0 140.8L315.9 133.8L317.8 136.2L320.5 137.6Z" fill="#0080ff"/>
<line x1="335.0" y1="133.1" x2="333.0" y2="133.3" stroke="#0080ff" stroke-width="1.7"/><path d="M327.2 133.8L333.6 130.2L332.9 133.3L334.1 136.2Z" fill="#0080ff"/>
<line x1="349.6" y1="133.1" x2="347.7" y2="133.2" stroke="#0080ff" stroke-width="1.7"/><path d="M342.0 133.5L348.3 130.2L347.6 133.2L348.6 136.1Z" fill="#0080ff"/>
<path d="M363.9 139.2L361.2 133.3L363.9 134.0L366.6 133.3Z" fill="#0000ff"/>
<path d="M381.2 135.3L377.2 137.1L377.2 135.3L377.2 133.5Z" fill="#0000ff"/>
<path d="M394.9 133.8L393.1 134.8L393.1 133.8L393.1 132.7Z" fill="#0000ff"/>
<path d="M407.7 139.6L404.8 133.2L407.7 133.9L410.6 133.2Z" fill="#0000ff"/>
<path d="M422.3 139.6L419.4 133.2L422.3 133.9L425.2 133.2Z" fill="#0000ff"/>
<path d="M441.2 135.3L434.8 138.2L435.5 135.3L434.8 132.4Z" fill="#0000ff"/>
<path d="M451.5 139.6L448.6 133.2L451.5 133.9L454.4 133.2Z" fill="#0000ff"/>
<path d="M470.4 135.3L464.0 138.2L464.7 135.3L464.0 132.4Z" fill="#0000ff"/>
<line x1="481.0" y1="133.1" x2="476.8" y2="138.6" stroke="#0080ff" stroke-width="1.7"/><path d="M473.2 143.2L474.9 136.2L476.8 138.6L479.6 139.8Z" fill="#0080ff"/>
<line x1="495.6" y1="133.1" x2="490.5" y2="139.9" stroke="#00ffff" stroke-width="1.7"/><path d="M487.0 144.5L488.6 137.4L490.6 139.8L493.4 141.0Z" fill="#00ffff"/>
<line x1="510.2" y1="133.1" x2="504.8" y2="141.0" stroke="#00ffff" stroke-width="1.7"/><path d="M501.5 145.8L502.8 138.6L504.8 140.9L507.7 142.0Z" fill="#00ffff"/>
<line x1="524.8" y1="133.1" x2="519.6" y2="137.7" stroke="#0080ff" stroke-width="1.7"/><path d="M515.2 141.5L518.2 134.9L519.7 137.6L522.2 139.4Z" fill="#0080ff"/>
<line x1="539.4" y1="133.1" x2="537.2" y2="133.5" stroke="#0080ff" stroke-width="1.7"/><path d="M531.5 134.5L537.5 130.4L537.1 133.5L538.5 136.3Z" fill="#0080ff"/>
<path d="M549.4 135.3L555.8 132.4L555.1 135.3L555.8 138.2Z" fill="#0000ff"/>
<line x1="174.4" y1="147.7" x2="167.6" y2="153.0" stroke="#00ffff" stroke-width="1.7"/><path d="M163.0 156.5L166.4 150.1L167.7 152.9L170.1 154.8Z" fill="#00ffff"/>
<line x1="189.0" y1="147.7" x2="185.0" y2="152.0" stroke="#0080ff" stroke-width="1.7"/><path d="M181.0 156.2L183.3 149.4L185.0 151.9L187.7 153.5Z" fill="#0080ff"/>
<path d="M217.9 154.2L215.0 147.8L217.9 148.5L220.8 147.8Z" fill="#0080ff"/>
<path d="M236.7 149.9L230.4 152.8L231.1 149.9L230.4 147.0Z" fill="#0000ff"/>
<path d="M250.9 149.9L245.2 152.6L245.9 149.9L245.2 147.2Z" fill="#0000ff"/>
<path d="M280.6 149.9L274.2 152.8L274.9 149.9L274.2 147.0Z" fill="#0000ff"/>
<line x1="291.2" y1="147.7" x2="290.1" y2="149.2" stroke="#0080ff" stroke-width="1.7"/><path d="M287.2 153.2L288.4 147.0L290.1 149.3L292.8 150.1Z" fill="#0080ff"/>
<line x1="305.8" y1="147.7" x2="303.1" y2="150.4" stroke="#0080ff" stroke-width="1.7"/><path d="M299.0 154.5L301.5 147.7L303.2 150.3L305.8 152.0Z" fill="#0080ff"/>
<line x1="320.4" y1="147.7" x2="318.9" y2="148.8" stroke="#0080ff" stroke-width="1.7"/><path d="M314.8 152.0L317.9 146.1L318.8 148.9L321.2 150.6Z" fill="#0080ff"/>
<path d="M334.7 145.6L337.6 152.0L334.7 151.3L331.8 152.0Z" fill="#0080ff"/>
<path d="M345.0 149.9L351.4 147.0L350.7 149.9L351.4 152.8Z" fill="#0000ff"/>
<path d="M363.9 152.9L361.8 148.4L363.9 148.4L366.0 148.4Z" fill="#0000ff"/>
<path d="M379.6 148.2L377.8 149.3L377.8 148.2L377.8 147.2Z" fill="#0000ff"/>
<path d="M396.7 149.9L391.3 152.4L392.0 149.9L391.3 147.4Z" fill="#0000ff"/>
<path d="M412.0 149.9L405.6 152.8L406.3 149.9L405.6 147.0Z" fill="#0000ff"/>
<path d="M422.3 154.2L419.4 147.8L422.3 148.5L425.2 147.8Z" fill="#0080ff"/>
<path d="M436.9 154.2L434.0 147.8L436.9 148.5L439.8 147.8Z" fill="#0080ff"/>
<path d="M451.5 154.2L448.6 147.8L451.5 148.5L454.4 147.8Z" fill="#0080ff"/>
<path d="M466.1 154.2L463.2 147.8L466.1 148.5L469.0 147.8Z" fill="#0080ff"/>
<line x1="481.0" y1="147.7" x2="479.5" y2="150.1" stroke="#0080ff" stroke-width="1.7"/><path d="M476.5 155.0L477.4 147.8L479.5 150.1L482.5 151.0Z" fill="#0080ff"/>
<line x1="495.6" y1="147.7" x2="492.1" y2="153.3" stroke="#0080ff" stroke-width="1.7"/><path d="M489.0 158.2L490.0 151.1L492.1 153.2L495.0 154.2Z" fill="#0080ff"/>
<line x1="510.2" y1="147.7" x2="503.6" y2="157.2" stroke="#00ffff" stroke-width="1.7"/><path d="M500.2 162.0L501.6 154.9L503.6 157.2L506.5 158.3Z" fill="#00ffff"/>
<line x1="524.8" y1="147.7" x2="516.7" y2="156.5" stroke="#00ffff" stroke-width="1.7"/><path d="M512.8 160.8L515.0 153.9L516.8 156.4L519.4 157.9Z" fill="#00ffff"/>
<line x1="539.4" y1="147.7" x2="531.2" y2="151.9" stroke="#00ffff" stroke-width="1.7"/><path d="M526.0 154.5L530.5 148.8L531.3 151.8L533.2 154.2Z" fill="#00ffff"/>
<line x1="554.0" y1="147.7" x2="551.0" y2="147.6" stroke="#0080ff" stroke-width="1.7"/><path d="M545.2 147.5L551.9 144.6L550.9 147.6L551.8 150.7Z" fill="#0080ff"/>
<line x1="174.4" y1="162.3" x2="170.7" y2="164.9" stroke="#0080ff" stroke-width="1.7"/><path d="M166.0 168.2L169.6 162.0L170.8 164.8L173.1 166.9Z" fill="#0080ff"/>
<line x1="189.0" y1="162.3" x2="186.7" y2="164.8" stroke="#0080ff" stroke-width="1.7"/><path d="M182.8 169.0L185.1 162.1L186.8 164.7L189.5 166.2Z" fill="#0080ff"/>
<path d="M207.6 164.5L201.2 167.4L201.9 164.5L201.2 161.6Z" fill="#0000ff"/>
<path d="M217.9 168.8L215.0 162.4L217.9 163.1L220.8 162.4Z" fill="#0000ff"/>
<path d="M232.5 168.8L229.6 162.4L232.5 163.1L235.4 162.4Z" fill="#0000ff"/>
<path d="M248.2 163.2L246.3 164.3L246.3 163.2L246.3 162.2Z" fill="#0000ff"/>
<path d="M261.7 161.8L263.6 165.9L261.7 165.9L259.8 165.9Z" fill="#0000ff"/>
<path d="M276.3 168.8L273.4 162.4L276.3 163.1L279.2 162.4Z" fill="#0000ff"/>
<path d="M295.2 164.5L288.8 167.4L289.5 164.5L288.8 161.6Z" fill="#0000ff"/>
<path d="M305.5 161.0L307.9 166.3L305.5 165.6L303.1 166.3Z" fill="#0080ff"/>
<path d="M320.1 160.5L322.9 166.5L320.1 165.8L317.3 166.5Z" fill="#0080ff"/>
<path d="M334.7 167.7L332.5 162.9L334.7 162.9L336.9 162.9Z" fill="#0000ff"/>
<path d="M349.3 167.6L347.2 163.0L349.3 163.0L351.4 163.0Z" fill="#0000ff"/>
<path d="M363.9 167.2L362.1 163.2L363.9 163.2L365.7 163.2Z" fill="#0000ff"/>
<path d="M374.8 164.5L380.4 161.9L379.7 164.5L380.4 167.1Z" fill="#0000ff"/>
<path d="M397.4 164.5L391.0 167.4L391.7 164.5L391.0 161.6Z" fill="#0000ff"/>
<path d="M412.0 164.5L405.6 167.4L406.3 164.5L405.6 161.6Z" fill="#0080ff"/>
<line x1="422.6" y1="162.3" x2="422.4" y2="164.3" stroke="#0080ff" stroke-width="1.7"/><path d="M422.0 170.0L419.5 163.2L422.4 164.4L425.5 163.7Z" fill="#0080ff"/>
<line x1="437.2" y1="162.3" x2="437.1" y2="164.3" stroke="#0080ff" stroke-width="1.7"/><path d="M437.0 170.0L434.2 163.4L437.1 164.4L440.2 163.5Z" fill="#0080ff"/>
<line x1="451.8" y1="162.3" x2="451.7" y2="165.5" stroke="#0080ff" stroke-width="1.7"/><path d="M451.5 171.2L448.7 164.6L451.7 165.6L454.7 164.8Z" fill="#0080ff"/>
<line x1="466.4" y1="162.3" x2="466.4" y2="164.3" stroke="#0080ff" stroke-width="1.7"/><path d="M466.5 170.0L463.4 163.5L466.4 164.4L469.4 163.4Z" fill="#0080ff"/>
<line x1="481.0" y1="162.3" x2="480.8" y2="163.9" stroke="#0080ff" stroke-width="1.7"/><path d="M480.2 168.2L478.5 162.8L480.8 164.0L483.3 163.4Z" fill="#0080ff"/>
<line x1="495.6" y1="162.3" x2="494.4" y2="166.4" stroke="#0080ff" stroke-width="1.7"/><path d="M492.8 172.0L491.7 164.8L494.4 166.3L497.5 166.5Z" fill="#0080ff"/>
<line x1="510.2" y1="162.3" x2="506.7" y2="168.9" stroke="#0080ff" stroke-width="1.7"/><path d="M504.0 174.0L504.4 166.8L506.8 168.8L509.7 169.6Z" fill="#0080ff"/>
<line x1="524.8" y1="162.3" x2="519.2" y2="168.3" stroke="#00ffff" stroke-width="1.7"/><path d="M515.2 172.5L517.6 165.6L519.3 168.2L522.0 169.7Z" fill="#00ffff"/>
<line x1="539.4" y1="162.3" x2="532.8" y2="166.1" stroke="#0080ff" stroke-width="1.7"/><path d="M527.8 169.0L532.0 163.1L532.9 166.1L535.0 168.3Z" fill="#0080ff"/>
<line x1="145.2" y1="176.9" x2="142.4" y2="178.1" stroke="#0080ff" stroke-width="1.7"/><path d="M137.0 180.2L142.0 175.0L142.3 178.1L144.2 180.5Z" fill="#0080ff"/>
<line x1="159.8" y1="176.9" x2="157.3" y2="178.4" stroke="#0080ff" stroke-width="1.7"/><path d="M152.2 181.2L156.5 175.4L157.2 178.4L159.5 180.6Z" fill="#0080ff"/>
<line x1="174.4" y1="176.9" x2="171.9" y2="179.2" stroke="#0080ff" stroke-width="1.7"/><path d="M167.8 183.2L170.4 176.5L172.0 179.2L174.6 180.9Z" fill="#0080ff"/>
<path d="M204.7 178.2L202.8 179.3L202.8 178.2L202.8 177.2Z" fill="#0000ff"/>
<path d="M221.5 179.1L216.1 181.6L216.8 179.1L216.1 176.6Z" fill="#0000ff"/>
<path d="M235.6 179.1L230.9 181.2L230.9 179.1L230.9 177.0Z" fill="#0000ff"/>
<path d="M250.5 179.1L245.4 181.4L246.1 179.1L245.4 176.8Z" fill="#0000ff"/>
<path d="M262.6 177.2L260.8 178.3L260.8 177.2L260.8 176.2Z" fill="#0000ff"/>
<path d="M277.9 177.8L276.1 178.8L276.1 177.8L276.1 176.7Z" fill="#0000ff"/>
<path d="M293.8 179.1L289.5 181.1L289.5 179.1L289.5 177.1Z" fill="#0000ff"/>
<path d="M305.5 176.4L307.3 180.4L305.5 180.4L303.7 180.4Z" fill="#0000ff"/>
<path d="M317.3 179.1L321.5 177.2L321.5 179.1L321.5 181.0Z" fill="#0000ff"/>
<path d="M337.6 179.1L333.2 181.1L333.2 179.1L333.2 177.1Z" fill="#0000ff"/>
<path d="M346.3 179.1L350.8 177.0L350.8 179.1L350.8 181.2Z" fill="#0000ff"/>
<path d="M363.9 176.0L366.0 180.6L363.9 180.6L361.8 180.6Z" fill="#0000ff"/>
<path d="M379.6 177.2L377.8 178.3L377.8 177.2L377.8 176.2Z" fill="#0000ff"/>
<path d="M396.5 179.1L391.4 181.4L392.1 179.1L391.4 176.8Z" fill="#0000ff"/>
<line x1="408.0" y1="176.9" x2="407.9" y2="178.8" stroke="#0080ff" stroke-width="1.7"/><path d="M407.8 184.0L405.2 177.9L407.9 178.9L410.7 178.1Z" fill="#0080ff"/>
<line x1="422.6" y1="176.9" x2="422.6" y2="178.8" stroke="#0080ff" stroke-width="1.7"/><path d="M422.8 184.5L419.7 178.1L422.6 178.9L425.6 178.0Z" fill="#0080ff"/>
<line x1="437.2" y1="176.9" x2="437.2" y2="180.0" stroke="#0080ff" stroke-width="1.7"/><path d="M437.2 185.8L434.2 179.2L437.2 180.1L440.2 179.1Z" fill="#0080ff"/>
<line x1="451.8" y1="176.9" x2="451.9" y2="180.0" stroke="#0080ff" stroke-width="1.7"/><path d="M452.0 185.8L448.8 179.2L451.9 180.1L454.9 179.1Z" fill="#0080ff"/>
<line x1="466.4" y1="176.9" x2="466.4" y2="178.8" stroke="#0080ff" stroke-width="1.7"/><path d="M466.5 184.5L463.5 178.1L466.4 178.9L469.4 178.0Z" fill="#0080ff"/>
<path d="M480.7 183.4L477.8 177.0L480.7 177.7L483.6 177.0Z" fill="#0000ff"/>
<line x1="495.6" y1="176.9" x2="495.7" y2="179.2" stroke="#0080ff" stroke-width="1.7"/><path d="M496.0 185.0L492.7 178.6L495.7 179.3L498.7 178.3Z" fill="#0080ff"/>
<line x1="510.2" y1="176.9" x2="510.2" y2="180.7" stroke="#0080ff" stroke-width="1.7"/><path d="M510.2 186.5L507.2 179.9L510.2 180.6L513.2 179.9Z" fill="#0080ff"/>
<line x1="524.8" y1="176.9" x2="524.5" y2="180.7" stroke="#0080ff" stroke-width="1.7"/><path d="M524.0 186.5L521.6 179.7L524.5 180.6L527.5 180.2Z" fill="#0080ff"/>
<path d="M542.8 179.1L537.2 181.7L537.9 179.1L537.2 176.5Z" fill="#0000ff"/>
<path d="M557.4 179.1L551.8 181.7L552.5 179.1L551.8 176.5Z" fill="#0000ff"/>
<line x1="159.8" y1="191.5" x2="158.2" y2="192.6" stroke="#0080ff" stroke-width="1.7"/><path d="M153.5 196.0L157.1 189.7L158.1 192.7L160.6 194.6Z" fill="#0080ff"/>
<line x1="174.4" y1="191.5" x2="173.1" y2="192.9" stroke="#0080ff" stroke-width="1.7"/><path d="M169.5 197.0L171.5 190.4L173.1 193.0L175.8 194.2Z" fill="#0080ff"/>
<path d="M188.7 190.3L191.0 195.4L188.7 194.7L186.4 195.4Z" fill="#0000ff"/>
<path d="M206.3 193.7L201.8 195.8L201.8 193.7L201.8 191.6Z" fill="#0000ff"/>
<path d="M221.1 193.7L216.3 195.9L216.3 193.7L216.3 191.5Z" fill="#0000ff"/>
<path d="M233.9 192.5L232.1 193.5L232.1 192.5L232.1 191.5Z" fill="#0000ff"/>
<path d="M248.9 192.0L247.1 193.0L247.1 192.0L247.1 191.0Z" fill="#0000ff"/>
<path d="M262.9 191.8L261.1 192.8L261.1 191.8L261.1 190.7Z" fill="#0000ff"/>
<path d="M277.4 191.8L275.6 192.8L275.6 191.8L275.6 190.7Z" fill="#0000ff"/>
<path d="M292.1 191.5L290.3 192.5L290.3 191.5L290.3 190.5Z" fill="#0000ff"/>
<path d="M306.6 191.0L304.8 192.0L304.8 191.0L304.8 190.0Z" fill="#0000ff"/>
<path d="M321.4 191.2L319.6 192.3L319.6 191.2L319.6 190.2Z" fill="#0000ff"/>
<path d="M332.0 193.7L336.0 191.9L336.0 193.7L336.0 195.5Z" fill="#0000ff"/>
<path d="M346.6 193.7L350.6 191.9L350.6 193.7L350.6 195.5Z" fill="#0000ff"/>
<path d="M365.1 191.5L363.3 192.5L363.3 191.5L363.3 190.5Z" fill="#0000ff"/>
<path d="M374.7 193.7L380.4 191.1L379.7 193.7L380.4 196.3Z" fill="#0000ff"/>
<path d="M397.4 193.7L391.0 196.6L391.7 193.7L391.0 190.8Z" fill="#0000ff"/>
<line x1="408.0" y1="191.5" x2="407.9" y2="193.3" stroke="#0080ff" stroke-width="1.7"/><path d="M407.8 198.2L405.3 192.4L407.9 193.4L410.6 192.6Z" fill="#0080ff"/>
<line x1="422.6" y1="191.5" x2="422.6" y2="193.4" stroke="#0080ff" stroke-width="1.7"/><path d="M422.8 199.0L419.7 192.7L422.6 193.5L425.5 192.6Z" fill="#0080ff"/>
<line x1="437.2" y1="191.5" x2="437.2" y2="194.2" stroke="#0080ff" stroke-width="1.7"/><path d="M437.2 200.0L434.2 193.4L437.2 194.3L440.2 193.4Z" fill="#0080ff"/>
<line x1="451.8" y1="191.5" x2="451.9" y2="194.2" stroke="#0080ff" stroke-width="1.7"/><path d="M452.0 200.0L448.8 193.5L451.9 194.3L454.8 193.3Z" fill="#0080ff"/>
<line x1="466.4" y1="191.5" x2="466.4" y2="193.4" stroke="#0080ff" stroke-width="1.7"/><path d="M466.5 199.0L463.5 192.7L466.4 193.5L469.3 192.6Z" fill="#0080ff"/>
<path d="M480.7 198.0L477.8 191.6L480.7 192.3L483.6 191.6Z" fill="#0000ff"/>
<line x1="495.6" y1="191.5" x2="495.7" y2="193.7" stroke="#0080ff" stroke-width="1.7"/><path d="M496.0 199.5L492.7 193.1L495.7 193.8L498.7 192.8Z" fill="#0080ff"/>
<line x1="510.2" y1="191.5" x2="510.5" y2="195.0" stroke="#0080ff" stroke-width="1.7"/><path d="M511.0 200.8L507.4 194.4L510.5 194.9L513.4 193.9Z" fill="#0080ff"/>
<line x1="524.8" y1="191.5" x2="525.2" y2="194.3" stroke="#0080ff" stroke-width="1.7"/><path d="M526.0 200.0L522.1 193.9L525.2 194.4L528.1 193.0Z" fill="#0080ff"/>
<path d="M534.9 193.7L541.2 190.8L540.5 193.7L541.2 196.6Z" fill="#0000ff"/>
<path d="M550.5 193.7L555.3 191.5L555.3 193.7L555.3 195.9Z" fill="#0000ff"/>
<line x1="568.6" y1="191.5" x2="568.8" y2="184.8" stroke="#0080ff" stroke-width="1.7"/><path d="M569.0 179.0L571.8 185.7L568.8 184.9L565.8 185.5Z" fill="#0080ff"/>
<line x1="130.6" y1="206.1" x2="126.2" y2="208.2" stroke="#0080ff" stroke-width="1.7"/><path d="M121.0 210.8L125.6 205.2L126.3 208.2L128.3 210.6Z" fill="#0080ff"/>
<line x1="189.0" y1="206.1" x2="186.6" y2="207.3" stroke="#0080ff" stroke-width="1.7"/><path d="M181.5 210.0L186.0 204.3L186.6 207.4L188.7 209.6Z" fill="#0080ff"/>
<path d="M203.3 204.1L206.2 210.4L203.3 209.7L200.4 210.4Z" fill="#0000ff"/>
<path d="M217.9 205.2L220.1 209.9L217.9 209.9L215.7 209.9Z" fill="#0000ff"/>
<line x1="232.8" y1="206.1" x2="233.8" y2="207.8" stroke="#0080ff" stroke-width="1.7"/><path d="M236.5 212.5L230.9 208.5L233.8 207.8L235.8 205.6Z" fill="#0080ff"/>
<path d="M249.4 205.8L247.6 206.8L247.6 205.8L247.6 204.7Z" fill="#0000ff"/>
<path d="M262.9 205.8L261.1 206.8L261.1 205.8L261.1 204.7Z" fill="#0000ff"/>
<path d="M279.3 208.3L274.8 210.4L274.8 208.3L274.8 206.2Z" fill="#0000ff"/>
<path d="M290.9 204.7L293.4 210.1L290.9 209.4L288.4 210.1Z" fill="#0000ff"/>
<path d="M305.5 204.5L308.1 210.2L305.5 209.5L302.9 210.2Z" fill="#0000ff"/>
<path d="M320.1 204.0L323.0 210.4L320.1 209.7L317.2 210.4Z" fill="#0080ff"/>
<path d="M334.7 204.7L337.2 210.1L334.7 209.4L332.2 210.1Z" fill="#0000ff"/>
<path d="M346.4 208.3L350.7 206.3L350.7 208.3L350.7 210.3Z" fill="#0000ff"/>
<path d="M360.6 208.3L365.6 206.0L364.9 208.3L365.6 210.6Z" fill="#0000ff"/>
<line x1="378.8" y1="206.1" x2="378.9" y2="208.2" stroke="#0080ff" stroke-width="1.7"/><path d="M379.0 214.0L375.8 207.5L378.9 208.3L381.8 207.3Z" fill="#0080ff"/>
<line x1="393.4" y1="206.1" x2="393.4" y2="208.7" stroke="#0080ff" stroke-width="1.7"/><path d="M393.5 214.5L390.4 207.9L393.4 208.8L396.4 207.9Z" fill="#0080ff"/>
<line x1="408.0" y1="206.1" x2="408.1" y2="208.2" stroke="#0080ff" stroke-width="1.7"/><path d="M408.2 214.0L405.0 207.5L408.1 208.3L411.0 207.3Z" fill="#0080ff"/>
<path d="M422.3 212.6L419.4 206.2L422.3 206.9L425.2 206.2Z" fill="#0080ff"/>
<path d="M436.9 212.6L434.0 206.2L436.9 206.9L439.8 206.2Z" fill="#0000ff"/>
<path d="M451.5 212.6L448.6 206.2L451.5 206.9L454.4 206.2Z" fill="#0000ff"/>
<path d="M466.1 212.6L463.2 206.2L466.1 206.9L469.0 206.2Z" fill="#0000ff"/>
<path d="M480.7 212.6L477.8 206.2L480.7 206.9L483.6 206.2Z" fill="#0000ff"/>
<path d="M491.0 208.3L497.4 205.4L496.7 208.3L497.4 211.2Z" fill="#0080ff"/>
<line x1="510.2" y1="206.1" x2="511.1" y2="209.0" stroke="#0080ff" stroke-width="1.7"/><path d="M512.8 214.5L508.0 209.1L511.1 209.0L513.7 207.3Z" fill="#0080ff"/>
<line x1="524.8" y1="206.1" x2="526.0" y2="208.7" stroke="#0080ff" stroke-width="1.7"/><path d="M528.5 214.0L523.0 209.3L526.1 208.8L528.4 206.7Z" fill="#0080ff"/>
<line x1="539.4" y1="206.1" x2="541.7" y2="208.1" stroke="#0080ff" stroke-width="1.7"/><path d="M546.0 212.0L539.1 209.8L541.8 208.2L543.1 205.4Z" fill="#0080ff"/>
<line x1="554.0" y1="206.1" x2="557.0" y2="206.4" stroke="#0080ff" stroke-width="1.7"/><path d="M562.8 207.0L555.9 209.3L557.1 206.4L556.5 203.3Z" fill="#0080ff"/>
<line x1="568.6" y1="206.1" x2="571.1" y2="203.6" stroke="#0080ff" stroke-width="1.7"/><path d="M575.2 199.5L572.7 206.3L571.1 203.7L568.4 202.0Z" fill="#0080ff"/>
<line x1="130.6" y1="220.7" x2="126.1" y2="223.0" stroke="#0080ff" stroke-width="1.7"/><path d="M121.0 225.8L125.4 220.0L126.2 223.0L128.2 225.3Z" fill="#0080ff"/>
<line x1="145.2" y1="220.7" x2="142.6" y2="222.5" stroke="#0080ff" stroke-width="1.7"/><path d="M137.8 225.8L141.5 219.6L142.6 222.4L144.9 224.5Z" fill="#0080ff"/>
<line x1="159.8" y1="220.7" x2="159.5" y2="222.2" stroke="#0080ff" stroke-width="1.7"/><path d="M158.5 226.5L157.3 220.9L159.4 222.3L162.0 222.0Z" fill="#0080ff"/>
<line x1="174.4" y1="220.7" x2="173.0" y2="222.3" stroke="#0080ff" stroke-width="1.7"/><path d="M169.0 226.5L171.3 219.6L172.9 222.3L175.7 223.7Z" fill="#0080ff"/>
<path d="M203.3 219.4L205.7 224.7L203.3 224.0L200.9 224.7Z" fill="#0000ff"/>
<path d="M219.2 221.2L217.3 222.3L217.3 221.2L217.3 220.2Z" fill="#0000ff"/>
<path d="M234.2 221.2L232.3 222.3L232.3 221.2L232.3 220.2Z" fill="#0000ff"/>
<path d="M248.9 220.8L247.1 221.8L247.1 220.8L247.1 219.7Z" fill="#0000ff"/>
<path d="M264.4 222.9L260.4 224.7L260.4 222.9L260.4 221.1Z" fill="#0000ff"/>
<path d="M279.3 222.9L274.8 224.9L274.8 222.9L274.8 220.9Z" fill="#0000ff"/>
<path d="M293.8 222.9L289.4 224.9L289.4 222.9L289.4 220.9Z" fill="#0000ff"/>
<path d="M308.4 222.9L304.1 224.9L304.1 222.9L304.1 220.9Z" fill="#0000ff"/>
<path d="M322.8 222.9L318.8 224.7L318.8 222.9L318.8 221.1Z" fill="#0000ff"/>
<path d="M337.9 222.9L333.1 225.1L333.1 222.9L333.1 220.7Z" fill="#0000ff"/>
<path d="M350.4 221.2L348.6 222.3L348.6 221.2L348.6 220.2Z" fill="#0000ff"/>
<path d="M363.9 227.2L361.0 220.8L363.9 221.5L366.8 220.8Z" fill="#0000ff"/>
<line x1="378.8" y1="220.7" x2="378.0" y2="225.0" stroke="#0080ff" stroke-width="1.7"/><path d="M377.0 230.8L375.2 223.7L378.0 224.9L381.1 224.8Z" fill="#0080ff"/>
<line x1="393.4" y1="220.7" x2="393.4" y2="224.2" stroke="#0080ff" stroke-width="1.7"/><path d="M393.5 230.0L390.4 223.4L393.4 224.1L396.4 223.4Z" fill="#0080ff"/>
<path d="M407.7 227.2L404.8 220.8L407.7 221.5L410.6 220.8Z" fill="#0000ff"/>
<path d="M422.3 227.2L419.4 220.8L422.3 221.5L425.2 220.8Z" fill="#0000ff"/>
<path d="M436.9 227.2L434.0 220.8L436.9 221.5L439.8 220.8Z" fill="#0000ff"/>
<path d="M451.5 227.2L448.6 220.8L451.5 221.5L454.4 220.8Z" fill="#0000ff"/>
<path d="M466.1 227.2L463.2 220.8L466.1 221.5L469.0 220.8Z" fill="#0000ff"/>
<path d="M480.7 227.2L477.8 220.8L480.7 221.5L483.6 220.8Z" fill="#0000ff"/>
<path d="M491.0 222.9L497.4 220.0L496.7 222.9L497.4 225.8Z" fill="#0000ff"/>
<line x1="510.2" y1="220.7" x2="511.4" y2="223.1" stroke="#0080ff" stroke-width="1.7"/><path d="M514.0 228.2L508.3 223.7L511.4 223.2L513.7 221.0Z" fill="#0080ff"/>
<line x1="524.8" y1="220.7" x2="526.9" y2="223.5" stroke="#0080ff" stroke-width="1.7"/><path d="M530.2 228.2L523.9 224.7L526.8 223.5L528.8 221.1Z" fill="#0080ff"/>
<line x1="539.4" y1="220.7" x2="542.5" y2="223.3" stroke="#0080ff" stroke-width="1.7"/><path d="M547.0 227.0L540.0 225.1L542.5 223.2L543.8 220.5Z" fill="#0080ff"/>
<line x1="554.0" y1="220.7" x2="558.5" y2="222.2" stroke="#0080ff" stroke-width="1.7"/><path d="M564.0 224.0L556.8 224.8L558.4 222.2L558.7 219.1Z" fill="#0080ff"/>
<line x1="159.8" y1="235.3" x2="159.6" y2="237.5" stroke="#0080ff" stroke-width="1.7"/><path d="M159.0 243.2L156.7 236.4L159.6 237.6L162.7 237.0Z" fill="#0080ff"/>
<line x1="174.4" y1="235.3" x2="173.0" y2="236.7" stroke="#0080ff" stroke-width="1.7"/><path d="M169.0 240.8L171.5 234.0L173.0 236.8L175.7 238.2Z" fill="#0080ff"/>
<path d="M188.7 233.2L191.6 239.6L188.7 238.9L185.8 239.6Z" fill="#0080ff"/>
<path d="M203.3 234.2L205.6 239.2L203.3 238.5L201.0 239.2Z" fill="#0000ff"/>
<path d="M220.8 237.5L216.4 239.5L216.4 237.5L216.4 235.5Z" fill="#0000ff"/>
<path d="M233.9 235.2L232.1 236.3L232.1 235.2L232.1 234.2Z" fill="#0000ff"/>
<path d="M248.7 235.2L246.8 236.3L246.8 235.2L246.8 234.2Z" fill="#0000ff"/>
<path d="M262.9 235.2L261.1 236.3L261.1 235.2L261.1 234.2Z" fill="#0000ff"/>
<path d="M279.0 237.5L275.0 239.3L275.0 237.5L275.0 235.7Z" fill="#0000ff"/>
<path d="M294.0 237.5L289.4 239.6L289.4 237.5L289.4 235.4Z" fill="#0000ff"/>
<path d="M305.5 240.4L303.5 236.0L305.5 236.0L307.5 236.0Z" fill="#0000ff"/>
<path d="M315.8 237.5L322.2 234.6L321.5 237.5L322.2 240.4Z" fill="#0000ff"/>
<path d="M334.7 241.8L331.8 235.4L334.7 236.1L337.6 235.4Z" fill="#0000ff"/>
<line x1="349.6" y1="235.3" x2="349.6" y2="240.0" stroke="#0080ff" stroke-width="1.7"/><path d="M349.5 245.8L346.6 239.1L349.6 239.9L352.6 239.2Z" fill="#0080ff"/>
<line x1="364.2" y1="235.3" x2="363.6" y2="239.5" stroke="#0080ff" stroke-width="1.7"/><path d="M362.8 245.2L360.7 238.3L363.6 239.4L366.7 239.2Z" fill="#0080ff"/>
<line x1="378.8" y1="235.3" x2="377.9" y2="240.8" stroke="#0080ff" stroke-width="1.7"/><path d="M377.0 246.5L375.1 239.5L377.9 240.7L381.0 240.5Z" fill="#0080ff"/>
<line x1="393.4" y1="235.3" x2="393.2" y2="238.2" stroke="#0080ff" stroke-width="1.7"/><path d="M392.8 244.0L390.2 237.2L393.2 238.3L396.2 237.6Z" fill="#0080ff"/>
<path d="M407.7 241.8L404.8 235.4L407.7 236.1L410.6 235.4Z" fill="#0080ff"/>
<path d="M422.3 241.8L419.4 235.4L422.3 236.1L425.2 235.4Z" fill="#0000ff"/>
<path d="M436.9 241.7L434.0 235.4L436.9 236.1L439.8 235.4Z" fill="#0000ff"/>
<path d="M452.9 236.2L451.1 237.3L451.1 236.2L451.1 235.2Z" fill="#0000ff"/>
<path d="M467.4 236.5L465.6 237.5L465.6 236.5L465.6 235.5Z" fill="#0000ff"/>
<path d="M480.7 241.8L477.8 235.4L480.7 236.1L483.6 235.4Z" fill="#0000ff"/>
<path d="M495.3 241.8L492.4 235.4L495.3 236.1L498.2 235.4Z" fill="#0000ff"/>
<line x1="510.2" y1="235.3" x2="511.3" y2="237.4" stroke="#0080ff" stroke-width="1.7"/><path d="M514.0 242.5L508.3 238.1L511.3 237.5L513.6 235.3Z" fill="#0080ff"/>
<line x1="524.8" y1="235.3" x2="526.7" y2="237.9" stroke="#0080ff" stroke-width="1.7"/><path d="M530.2 242.5L523.9 239.1L526.7 237.8L528.7 235.4Z" fill="#0080ff"/>
<line x1="539.4" y1="235.3" x2="542.5" y2="237.8" stroke="#0080ff" stroke-width="1.7"/><path d="M547.0 241.5L540.0 239.7L542.4 237.8L543.8 235.0Z" fill="#0080ff"/>
<line x1="554.0" y1="235.3" x2="559.0" y2="237.1" stroke="#0080ff" stroke-width="1.7"/><path d="M564.5 239.0L557.3 239.6L558.9 237.0L559.3 234.0Z" fill="#0080ff"/>
<line x1="116.0" y1="249.9" x2="109.4" y2="254.0" stroke="#00ffff" stroke-width="1.7"/><path d="M104.5 257.0L108.5 251.0L109.5 253.9L111.7 256.1Z" fill="#00ffff"/>
<line x1="145.2" y1="249.9" x2="141.5" y2="252.1" stroke="#0080ff" stroke-width="1.7"/><path d="M136.5 255.0L140.7 249.1L141.6 252.0L143.7 254.3Z" fill="#0080ff"/>
<line x1="159.8" y1="249.9" x2="157.0" y2="251.6" stroke="#0080ff" stroke-width="1.7"/><path d="M152.0 254.5L156.2 248.6L157.1 251.5L159.2 253.7Z" fill="#0080ff"/>
<line x1="189.0" y1="249.9" x2="186.2" y2="252.5" stroke="#0080ff" stroke-width="1.7"/><path d="M182.0 256.5L184.7 249.8L186.3 252.5L188.9 254.2Z" fill="#0080ff"/>
<path d="M217.9 248.8L220.2 253.8L217.9 253.8L215.6 253.8Z" fill="#0000ff"/>
<path d="M234.2 250.5L232.3 251.5L232.3 250.5L232.3 249.5Z" fill="#0000ff"/>
<path d="M248.9 250.0L247.1 251.0L247.1 250.0L247.1 249.0Z" fill="#0000ff"/>
<path d="M262.9 249.8L261.1 250.8L261.1 249.8L261.1 248.7Z" fill="#0000ff"/>
<path d="M277.9 249.8L276.1 250.8L276.1 249.8L276.1 248.7Z" fill="#0000ff"/>
<path d="M292.4 249.8L290.6 250.8L290.6 249.8L290.6 248.7Z" fill="#0000ff"/>
<path d="M305.5 255.0L303.5 250.7L305.5 250.7L307.5 250.7Z" fill="#0000ff"/>
<line x1="320.4" y1="249.9" x2="318.2" y2="250.6" stroke="#0080ff" stroke-width="1.7"/><path d="M312.8 252.5L318.0 247.5L318.1 250.7L320.0 253.2Z" fill="#0080ff"/>
<line x1="335.0" y1="249.9" x2="332.4" y2="252.7" stroke="#0080ff" stroke-width="1.7"/><path d="M328.5 257.0L330.7 250.1L332.5 252.6L335.2 254.2Z" fill="#0080ff"/>
<line x1="349.6" y1="249.9" x2="347.7" y2="256.4" stroke="#00ffff" stroke-width="1.7"/><path d="M346.0 262.0L345.0 254.8L347.7 256.3L350.8 256.5Z" fill="#00ffff"/>
<line x1="364.2" y1="249.9" x2="361.1" y2="257.8" stroke="#00ffff" stroke-width="1.7"/><path d="M359.0 263.2L358.6 256.0L361.1 257.8L364.2 258.2Z" fill="#00ffff"/>
<line x1="378.8" y1="249.9" x2="375.9" y2="256.2" stroke="#00ffff" stroke-width="1.7"/><path d="M373.5 261.5L373.5 254.2L376.0 256.1L379.0 256.7Z" fill="#00ffff"/>
<line x1="393.4" y1="249.9" x2="392.0" y2="254.5" stroke="#0080ff" stroke-width="1.7"/><path d="M390.2 260.0L389.3 252.8L392.0 254.4L395.1 254.6Z" fill="#0080ff"/>
<path d="M407.7 256.4L404.8 250.0L407.7 250.7L410.6 250.0Z" fill="#0000ff"/>
<path d="M422.3 247.8L425.2 254.2L422.3 253.5L419.4 254.2Z" fill="#0000ff"/>
<path d="M440.5 252.1L435.1 254.6L435.8 252.1L435.1 249.6Z" fill="#0000ff"/>
<path d="M452.9 250.8L451.1 251.8L451.1 250.8L451.1 249.7Z" fill="#0000ff"/>
<path d="M467.4 250.8L465.6 251.8L465.6 250.8L465.6 249.7Z" fill="#0000ff"/>
<line x1="481.0" y1="249.9" x2="481.4" y2="251.8" stroke="#0080ff" stroke-width="1.7"/><path d="M482.8 257.5L478.3 251.7L481.5 251.9L484.2 250.4Z" fill="#0080ff"/>
<line x1="495.6" y1="249.9" x2="495.7" y2="251.7" stroke="#0080ff" stroke-width="1.7"/><path d="M496.0 256.5L493.1 251.0L495.7 251.8L498.3 250.7Z" fill="#0080ff"/>
<path d="M506.1 252.1L511.8 249.5L511.1 252.1L511.8 254.7Z" fill="#0000ff"/>
<line x1="524.8" y1="249.9" x2="525.9" y2="251.6" stroke="#0080ff" stroke-width="1.7"/><path d="M529.0 256.5L522.9 252.5L525.9 251.7L528.0 249.3Z" fill="#0080ff"/>
<line x1="539.4" y1="249.9" x2="542.0" y2="252.1" stroke="#0080ff" stroke-width="1.7"/><path d="M546.5 255.8L539.5 253.9L541.9 252.0L543.3 249.2Z" fill="#0080ff"/>
<line x1="554.0" y1="249.9" x2="559.9" y2="252.3" stroke="#0080ff" stroke-width="1.7"/><path d="M565.2 254.5L558.0 254.8L559.8 252.3L560.3 249.2Z" fill="#0080ff"/>
<line x1="145.2" y1="264.5" x2="141.1" y2="267.5" stroke="#0080ff" stroke-width="1.7"/><path d="M136.5 271.0L140.0 264.6L141.2 267.5L143.6 269.5Z" fill="#0080ff"/>
<line x1="159.8" y1="264.5" x2="156.2" y2="268.0" stroke="#0080ff" stroke-width="1.7"/><path d="M152.0 272.0L154.7 265.3L156.3 267.9L158.8 269.6Z" fill="#0080ff"/>
<line x1="174.4" y1="264.5" x2="173.2" y2="267.4" stroke="#0080ff" stroke-width="1.7"/><path d="M171.0 272.8L170.7 265.5L173.2 267.5L176.3 267.8Z" fill="#0080ff"/>
<line x1="189.0" y1="264.5" x2="187.7" y2="267.2" stroke="#0080ff" stroke-width="1.7"/><path d="M185.2 272.5L185.3 265.2L187.7 267.3L190.8 267.8Z" fill="#0080ff"/>
<path d="M203.3 262.9L205.9 268.6L203.3 267.9L200.7 268.6Z" fill="#0000ff"/>
<path d="M242.8 266.7L249.2 263.8L248.5 266.7L249.2 269.6Z" fill="#0000ff"/>
<path d="M261.7 270.0L259.4 265.1L261.7 265.1L264.0 265.1Z" fill="#0000ff"/>
<path d="M276.3 269.5L274.3 265.3L276.3 265.3L278.3 265.3Z" fill="#0000ff"/>
<path d="M292.4 264.8L290.6 265.8L290.6 264.8L290.6 263.7Z" fill="#0000ff"/>
<path d="M302.8 266.7L306.8 264.8L306.8 266.7L306.8 268.6Z" fill="#0000ff"/>
<line x1="320.4" y1="264.5" x2="319.7" y2="267.6" stroke="#0080ff" stroke-width="1.7"/><path d="M318.5 273.2L317.0 266.2L319.7 267.7L322.8 267.4Z" fill="#0080ff"/>
<line x1="335.0" y1="264.5" x2="332.8" y2="268.8" stroke="#0080ff" stroke-width="1.7"/><path d="M330.2 274.0L330.5 266.8L332.9 268.7L335.9 269.4Z" fill="#0080ff"/>
<line x1="349.6" y1="264.5" x2="345.3" y2="273.1" stroke="#00ffff" stroke-width="1.7"/><path d="M342.8 278.2L343.0 271.0L345.4 273.0L348.4 273.7Z" fill="#00ffff"/>
<line x1="364.2" y1="264.5" x2="358.3" y2="274.1" stroke="#00ffff" stroke-width="1.7"/><path d="M355.2 279.0L356.2 271.8L358.3 274.0L361.3 275.0Z" fill="#00ffff"/>
<line x1="378.8" y1="264.5" x2="374.9" y2="269.8" stroke="#0080ff" stroke-width="1.7"/><path d="M371.5 274.5L373.0 267.4L375.0 269.7L377.8 270.9Z" fill="#0080ff"/>
<line x1="393.4" y1="264.5" x2="389.7" y2="268.8" stroke="#0080ff" stroke-width="1.7"/><path d="M386.0 273.2L388.0 266.3L389.8 268.7L392.6 270.2Z" fill="#0080ff"/>
<path d="M407.7 262.4L410.6 268.8L407.7 268.1L404.8 268.8Z" fill="#0080ff"/>
<path d="M422.3 263.7L424.4 268.2L422.3 268.2L420.2 268.2Z" fill="#0000ff"/>
<path d="M432.6 266.7L439.0 263.8L438.3 266.7L439.0 269.6Z" fill="#0000ff"/>
<path d="M452.4 265.0L450.6 266.0L450.6 265.0L450.6 264.0Z" fill="#0000ff"/>
<path d="M467.9 265.0L466.1 266.0L466.1 265.0L466.1 264.0Z" fill="#0000ff"/>
<path d="M480.7 271.0L477.8 264.6L480.7 265.3L483.6 264.6Z" fill="#0000ff"/>
<line x1="495.6" y1="264.5" x2="495.7" y2="266.3" stroke="#0080ff" stroke-width="1.7"/><path d="M496.0 271.5L492.9 265.7L495.7 266.4L498.4 265.4Z" fill="#0080ff"/>
<path d="M509.9 271.0L507.0 264.6L509.9 265.3L512.8 264.6Z" fill="#0000ff"/>
<path d="M520.9 266.7L526.3 264.2L525.6 266.7L526.3 269.2Z" fill="#0000ff"/>
<path d="M539.1 263.9L541.0 268.1L539.1 268.1L537.2 268.1Z" fill="#0000ff"/>
<path d="M553.7 263.1L556.2 268.5L553.7 267.8L551.2 268.5Z" fill="#0000ff"/>
<line x1="101.4" y1="279.1" x2="95.7" y2="283.1" stroke="#0080ff" stroke-width="1.7"/><path d="M91.0 286.5L94.6 280.2L95.8 283.1L98.1 285.1Z" fill="#0080ff"/>
<line x1="116.0" y1="279.1" x2="110.3" y2="284.3" stroke="#00ffff" stroke-width="1.7"/><path d="M106.0 288.2L108.8 281.6L110.4 284.3L112.9 286.0Z" fill="#00ffff"/>
<line x1="130.6" y1="279.1" x2="127.5" y2="282.3" stroke="#0080ff" stroke-width="1.7"/><path d="M123.5 286.5L125.9 279.7L127.6 282.2L130.2 283.8Z" fill="#0080ff"/>
<line x1="145.2" y1="279.1" x2="142.4" y2="282.2" stroke="#0080ff" stroke-width="1.7"/><path d="M138.5 286.5L140.7 279.6L142.5 282.1L145.2 283.6Z" fill="#0080ff"/>
<line x1="174.4" y1="279.1" x2="173.9" y2="281.8" stroke="#0080ff" stroke-width="1.7"/><path d="M172.8 287.5L171.1 280.4L173.8 281.9L177.0 281.6Z" fill="#0080ff"/>
<line x1="189.0" y1="279.1" x2="187.4" y2="282.0" stroke="#0080ff" stroke-width="1.7"/><path d="M184.5 287.0L185.2 279.8L187.4 281.9L190.4 282.8Z" fill="#0080ff"/>
<path d="M203.3 277.0L206.2 283.4L203.3 282.7L200.4 283.4Z" fill="#0000ff"/>
<path d="M221.9 281.3L215.9 284.0L216.6 281.3L215.9 278.6Z" fill="#0000ff"/>
<path d="M233.7 279.0L231.8 280.0L231.8 279.0L231.8 278.0Z" fill="#0000ff"/>
<path d="M242.8 281.3L249.2 278.4L248.5 281.3L249.2 284.2Z" fill="#0000ff"/>
<path d="M261.7 284.4L259.6 279.8L261.7 279.8L263.8 279.8Z" fill="#0000ff"/>
<path d="M272.0 281.3L278.4 278.4L277.7 281.3L278.4 284.2Z" fill="#0000ff"/>
<path d="M286.6 281.3L293.0 278.4L292.3 281.3L293.0 284.2Z" fill="#0080ff"/>
<path d="M301.2 281.3L307.6 278.4L306.9 281.3L307.6 284.2Z" fill="#0000ff"/>
<line x1="320.4" y1="279.1" x2="319.2" y2="283.9" stroke="#0080ff" stroke-width="1.7"/><path d="M317.8 289.5L316.5 282.4L319.2 283.8L322.3 283.8Z" fill="#0080ff"/>
<line x1="335.0" y1="279.1" x2="331.9" y2="283.5" stroke="#0080ff" stroke-width="1.7"/><path d="M328.5 288.2L329.9 281.1L331.9 283.4L334.8 284.6Z" fill="#0080ff"/>
<line x1="349.6" y1="279.1" x2="345.6" y2="286.4" stroke="#00ffff" stroke-width="1.7"/><path d="M342.8 291.5L343.3 284.3L345.6 286.3L348.6 287.2Z" fill="#00ffff"/>
<line x1="364.2" y1="279.1" x2="359.5" y2="287.0" stroke="#00ffff" stroke-width="1.7"/><path d="M356.5 292.0L357.3 284.8L359.5 286.9L362.5 287.9Z" fill="#00ffff"/>
<line x1="378.8" y1="279.1" x2="373.9" y2="285.0" stroke="#00ffff" stroke-width="1.7"/><path d="M370.2 289.5L372.1 282.5L374.0 284.9L376.8 286.3Z" fill="#00ffff"/>
<line x1="393.4" y1="279.1" x2="390.7" y2="282.5" stroke="#0080ff" stroke-width="1.7"/><path d="M387.0 287.0L388.8 280.0L390.7 282.4L393.5 283.8Z" fill="#0080ff"/>
<line x1="408.0" y1="279.1" x2="406.4" y2="280.2" stroke="#0080ff" stroke-width="1.7"/><path d="M401.5 283.2L405.4 277.2L406.3 280.2L408.6 282.2Z" fill="#0080ff"/>
<path d="M418.0 281.3L424.4 278.4L423.7 281.3L424.4 284.2Z" fill="#0000ff"/>
<path d="M432.6 281.3L439.0 278.4L438.3 281.3L439.0 284.2Z" fill="#0000ff"/>
<path d="M451.5 277.9L453.8 283.0L451.5 282.3L449.2 283.0Z" fill="#0000ff"/>
<path d="M467.4 279.5L465.6 280.5L465.6 279.5L465.6 278.5Z" fill="#0000ff"/>
<path d="M483.4 281.3L479.4 283.1L479.4 281.3L479.4 279.5Z" fill="#0000ff"/>
<path d="M506.0 281.3L511.8 278.6L511.1 281.3L511.8 284.0Z" fill="#0000ff"/>
<path d="M526.1 279.5L524.4 280.5L524.4 279.5L524.4 278.5Z" fill="#0000ff"/>
<path d="M539.9 279.5L538.1 280.5L538.1 279.5L538.1 278.5Z" fill="#0000ff"/>
<path d="M556.1 279.0L554.4 280.0L554.4 279.0L554.4 278.0Z" fill="#0000ff"/>
<line x1="130.6" y1="293.7" x2="128.2" y2="296.0" stroke="#0080ff" stroke-width="1.7"/><path d="M124.0 300.0L126.7 293.3L128.3 295.9L130.8 297.6Z" fill="#0080ff"/>
<line x1="145.2" y1="293.7" x2="141.9" y2="296.9" stroke="#0080ff" stroke-width="1.7"/><path d="M137.8 301.0L140.4 294.2L142.0 296.9L144.6 298.5Z" fill="#0080ff"/>
<line x1="159.8" y1="293.7" x2="156.7" y2="296.0" stroke="#0080ff" stroke-width="1.7"/><path d="M152.0 299.5L155.5 293.1L156.7 296.0L159.1 298.0Z" fill="#0080ff"/>
<line x1="174.4" y1="293.7" x2="167.5" y2="295.8" stroke="#0080ff" stroke-width="1.7"/><path d="M162.0 297.5L167.4 292.7L167.6 295.8L169.2 298.4Z" fill="#0080ff"/>
<path d="M199.0 295.9L205.4 293.0L204.7 295.9L205.4 298.8Z" fill="#0080ff"/>
<path d="M228.5 295.9L234.5 293.2L233.8 295.9L234.5 298.6Z" fill="#0000ff"/>
<path d="M242.8 295.9L249.2 293.0L248.5 295.9L249.2 298.8Z" fill="#0000ff"/>
<path d="M257.4 295.9L263.8 293.0L263.1 295.9L263.8 298.8Z" fill="#0080ff"/>
<path d="M272.0 295.9L278.4 293.0L277.7 295.9L278.4 298.8Z" fill="#0080ff"/>
<path d="M286.6 295.9L293.0 293.0L292.3 295.9L293.0 298.8Z" fill="#0000ff"/>
<line x1="305.8" y1="293.7" x2="304.1" y2="294.1" stroke="#0080ff" stroke-width="1.7"/><path d="M299.5 295.2L304.2 291.4L304.0 294.1L305.5 296.4Z" fill="#0080ff"/>
<line x1="320.4" y1="293.7" x2="318.2" y2="299.1" stroke="#0080ff" stroke-width="1.7"/><path d="M316.0 304.5L315.7 297.3L318.2 299.0L321.3 299.5Z" fill="#0080ff"/>
<line x1="335.0" y1="293.7" x2="329.7" y2="303.9" stroke="#00ffff" stroke-width="1.7"/><path d="M327.0 309.0L327.4 301.8L329.7 303.8L332.7 304.5Z" fill="#00ffff"/>
<line x1="349.6" y1="293.7" x2="345.2" y2="303.0" stroke="#00ffff" stroke-width="1.7"/><path d="M342.8 308.2L342.8 301.0L345.3 302.9L348.3 303.6Z" fill="#00ffff"/>
<line x1="364.2" y1="293.7" x2="359.4" y2="302.0" stroke="#00ffff" stroke-width="1.7"/><path d="M356.5 307.0L357.2 299.8L359.5 301.9L362.4 302.8Z" fill="#00ffff"/>
<line x1="378.8" y1="293.7" x2="373.5" y2="301.7" stroke="#00ffff" stroke-width="1.7"/><path d="M370.2 306.5L371.4 299.3L373.5 301.6L376.4 302.7Z" fill="#00ffff"/>
<line x1="393.4" y1="293.7" x2="388.2" y2="300.0" stroke="#00ffff" stroke-width="1.7"/><path d="M384.5 304.5L386.4 297.5L388.3 299.9L391.0 301.3Z" fill="#00ffff"/>
<line x1="408.0" y1="293.7" x2="404.3" y2="297.4" stroke="#0080ff" stroke-width="1.7"/><path d="M400.2 301.5L402.8 294.7L404.4 297.3L407.0 298.9Z" fill="#0080ff"/>
<line x1="422.6" y1="293.7" x2="420.8" y2="295.0" stroke="#0080ff" stroke-width="1.7"/><path d="M416.0 298.2L419.7 292.0L420.7 295.0L423.1 297.0Z" fill="#0080ff"/>
<path d="M436.9 291.6L439.8 298.0L436.9 297.3L434.0 298.0Z" fill="#0080ff"/>
<path d="M451.5 292.9L453.6 297.4L451.5 297.4L449.4 297.4Z" fill="#0080ff"/>
<path d="M495.3 300.2L492.4 293.8L495.3 294.5L498.2 293.8Z" fill="#0000ff"/>
<line x1="159.8" y1="308.3" x2="157.5" y2="309.1" stroke="#0080ff" stroke-width="1.7"/><path d="M152.0 311.1L157.2 306.0L157.4 309.2L159.2 311.7Z" fill="#0080ff"/>
<path d="M184.4 310.5L190.8 307.6L190.1 310.5L190.8 313.4Z" fill="#0000ff"/>
<path d="M199.0 310.5L205.4 307.6L204.7 310.5L205.4 313.4Z" fill="#0000ff"/>
<line x1="232.8" y1="308.3" x2="226.7" y2="307.4" stroke="#0080ff" stroke-width="1.7"/><path d="M221.0 306.5L228.0 304.5L226.8 307.4L227.1 310.5Z" fill="#0080ff"/>
<line x1="262.0" y1="308.3" x2="255.6" y2="307.9" stroke="#0080ff" stroke-width="1.7"/><path d="M249.8 307.6L256.6 305.0L255.7 307.9L256.2 311.0Z" fill="#0080ff"/>
<path d="M272.0 310.5L278.4 307.6L277.7 310.5L278.4 313.4Z" fill="#0000ff"/>
<path d="M286.6 310.5L293.0 307.6L292.3 310.5L293.0 313.4Z" fill="#0080ff"/>
<line x1="305.8" y1="308.3" x2="302.8" y2="308.5" stroke="#0080ff" stroke-width="1.7"/><path d="M297.0 309.0L303.3 305.5L302.7 308.5L303.8 311.5Z" fill="#0080ff"/>
<line x1="320.4" y1="308.3" x2="312.5" y2="318.6" stroke="#00ffff" stroke-width="1.7"/><path d="M309.0 323.2L310.6 316.2L312.6 318.6L315.4 319.8Z" fill="#00ffff"/>
<line x1="335.0" y1="308.3" x2="328.1" y2="320.7" stroke="#80ff80" stroke-width="1.7"/><path d="M325.2 325.8L325.8 318.5L328.1 320.6L331.1 321.5Z" fill="#80ff80"/>
<line x1="349.6" y1="308.3" x2="344.1" y2="319.3" stroke="#00ffff" stroke-width="1.7"/><path d="M341.5 324.5L341.8 317.3L344.1 319.2L347.1 319.9Z" fill="#00ffff"/>
<line x1="364.2" y1="308.3" x2="358.2" y2="318.3" stroke="#00ffff" stroke-width="1.7"/><path d="M355.2 323.2L356.1 316.0L358.3 318.2L361.2 319.1Z" fill="#00ffff"/>
<line x1="378.8" y1="308.3" x2="372.3" y2="317.7" stroke="#00ffff" stroke-width="1.7"/><path d="M369.0 322.5L370.3 315.4L372.4 317.6L375.2 318.8Z" fill="#00ffff"/>
<line x1="393.4" y1="308.3" x2="385.3" y2="318.6" stroke="#00ffff" stroke-width="1.7"/><path d="M381.7 323.2L383.4 316.1L385.4 318.5L388.2 319.8Z" fill="#00ffff"/>
<line x1="408.0" y1="308.3" x2="401.0" y2="316.2" stroke="#00ffff" stroke-width="1.7"/><path d="M397.2 320.6L399.3 313.6L401.1 316.2L403.8 317.6Z" fill="#00ffff"/>
<line x1="422.6" y1="308.3" x2="418.6" y2="311.9" stroke="#0080ff" stroke-width="1.7"/><path d="M414.3 315.8L417.2 309.1L418.7 311.8L421.2 313.6Z" fill="#0080ff"/>
<line x1="437.2" y1="308.3" x2="435.4" y2="310.3" stroke="#0080ff" stroke-width="1.7"/><path d="M431.5 314.6L433.7 307.7L435.3 310.4L438.1 311.7Z" fill="#0080ff"/>
<line x1="451.8" y1="308.3" x2="450.7" y2="310.1" stroke="#0080ff" stroke-width="1.7"/><path d="M447.8 315.1L448.5 307.9L450.7 310.2L453.7 311.0Z" fill="#0080ff"/>
<path d="M470.2 310.5L464.1 313.3L464.8 310.5L464.1 307.7Z" fill="#0000ff"/>
<line x1="116.0" y1="322.9" x2="110.0" y2="322.7" stroke="#0080ff" stroke-width="1.7"/><path d="M104.2 322.4L110.9 319.7L110.1 322.7L110.7 325.7Z" fill="#0080ff"/>
<line x1="130.6" y1="322.9" x2="127.1" y2="323.0" stroke="#0080ff" stroke-width="1.7"/><path d="M121.3 323.1L127.8 319.9L127.2 323.0L127.9 326.0Z" fill="#0080ff"/>
<line x1="145.2" y1="322.9" x2="140.7" y2="323.2" stroke="#0080ff" stroke-width="1.7"/><path d="M134.9 323.5L141.4 320.1L140.8 323.1L141.7 326.1Z" fill="#0080ff"/>
<line x1="159.8" y1="322.9" x2="152.6" y2="322.0" stroke="#0080ff" stroke-width="1.7"/><path d="M146.9 321.3L153.8 319.2L152.7 322.1L153.1 325.1Z" fill="#0080ff"/>
<line x1="189.0" y1="322.9" x2="181.9" y2="322.3" stroke="#0080ff" stroke-width="1.7"/><path d="M176.1 321.8L183.0 319.4L182.0 322.3L182.5 325.3Z" fill="#0080ff"/>
<line x1="203.6" y1="322.9" x2="196.2" y2="322.0" stroke="#0080ff" stroke-width="1.7"/><path d="M190.4 321.3L197.3 319.1L196.3 322.0L196.6 325.1Z" fill="#0080ff"/>
<line x1="232.8" y1="322.9" x2="227.0" y2="322.0" stroke="#0080ff" stroke-width="1.7"/><path d="M221.3 321.1L228.3 319.2L227.1 322.0L227.4 325.1Z" fill="#0080ff"/>
<line x1="262.0" y1="322.9" x2="257.5" y2="322.6" stroke="#0080ff" stroke-width="1.7"/><path d="M251.7 322.3L258.5 319.7L257.6 322.6L258.1 325.7Z" fill="#0080ff"/>
<line x1="291.2" y1="322.9" x2="285.6" y2="323.4" stroke="#0080ff" stroke-width="1.7"/><path d="M279.9 324.0L286.1 320.4L285.7 323.4L286.7 326.4Z" fill="#0080ff"/>
<line x1="305.8" y1="322.9" x2="300.7" y2="324.6" stroke="#0080ff" stroke-width="1.7"/><path d="M295.2 326.5L300.5 321.5L300.8 324.6L302.5 327.2Z" fill="#0080ff"/>
<line x1="320.4" y1="322.9" x2="312.8" y2="338.1" stroke="#80ff80" stroke-width="1.7"/><path d="M310.2 343.2L310.5 336.0L312.9 338.0L315.9 338.7Z" fill="#80ff80"/>
<line x1="335.0" y1="322.9" x2="328.0" y2="335.7" stroke="#80ff80" stroke-width="1.7"/><path d="M325.2 340.8L325.8 333.5L328.1 335.6L331.1 336.4Z" fill="#80ff80"/>
<line x1="349.6" y1="322.9" x2="344.0" y2="334.3" stroke="#00ffff" stroke-width="1.7"/><path d="M341.5 339.5L341.7 332.3L344.1 334.2L347.1 334.9Z" fill="#00ffff"/>
<line x1="364.2" y1="322.9" x2="358.9" y2="334.7" stroke="#80ff80" stroke-width="1.7"/><path d="M356.5 340.0L356.5 332.7L358.9 334.6L362.0 335.2Z" fill="#80ff80"/>
<line x1="378.8" y1="322.9" x2="371.1" y2="333.5" stroke="#00ffff" stroke-width="1.7"/><path d="M367.8 338.2L369.2 331.1L371.2 333.5L374.0 334.6Z" fill="#00ffff"/>
<line x1="393.4" y1="322.9" x2="383.9" y2="333.4" stroke="#80ff80" stroke-width="1.7"/><path d="M380.0 337.7L382.2 330.8L384.0 333.4L386.7 334.9Z" fill="#80ff80"/>
<line x1="408.0" y1="322.9" x2="402.0" y2="329.2" stroke="#00ffff" stroke-width="1.7"/><path d="M398.0 333.4L400.4 326.6L402.1 329.2L404.7 330.7Z" fill="#00ffff"/>
<line x1="422.6" y1="322.9" x2="418.9" y2="328.6" stroke="#0080ff" stroke-width="1.7"/><path d="M415.7 333.4L416.8 326.3L418.9 328.5L421.8 329.6Z" fill="#0080ff"/>
<line x1="145.2" y1="337.5" x2="141.4" y2="337.2" stroke="#0080ff" stroke-width="1.7"/><path d="M135.6 336.7L142.4 334.3L141.5 337.2L141.9 340.2Z" fill="#0080ff"/>
<line x1="159.8" y1="337.5" x2="152.6" y2="336.6" stroke="#0080ff" stroke-width="1.7"/><path d="M146.9 335.9L153.8 333.7L152.7 336.6L153.1 339.7Z" fill="#0080ff"/>
<line x1="189.0" y1="337.5" x2="183.0" y2="337.1" stroke="#0080ff" stroke-width="1.7"/><path d="M177.2 336.7L184.0 334.2L183.1 337.1L183.6 340.2Z" fill="#0080ff"/>
<line x1="218.2" y1="337.5" x2="206.7" y2="334.1" stroke="#00ffff" stroke-width="1.7"/><path d="M201.1 332.5L208.3 331.4L206.8 334.1L206.6 337.2Z" fill="#00ffff"/>
<line x1="232.8" y1="337.5" x2="221.5" y2="335.1" stroke="#00ffff" stroke-width="1.7"/><path d="M215.8 333.9L222.9 332.3L221.6 335.1L221.7 338.2Z" fill="#00ffff"/>
<line x1="247.4" y1="337.5" x2="234.9" y2="335.6" stroke="#00ffff" stroke-width="1.7"/><path d="M229.2 334.8L236.1 332.8L235.0 335.6L235.2 338.7Z" fill="#00ffff"/>
<line x1="262.0" y1="337.5" x2="248.9" y2="335.9" stroke="#00ffff" stroke-width="1.7"/><path d="M243.2 335.3L250.1 333.1L249.0 336.0L249.4 339.0Z" fill="#00ffff"/>
<line x1="291.2" y1="337.5" x2="284.5" y2="338.1" stroke="#0080ff" stroke-width="1.7"/><path d="M278.7 338.7L285.0 335.1L284.6 338.1L285.6 341.1Z" fill="#0080ff"/>
<line x1="305.8" y1="337.5" x2="298.2" y2="339.4" stroke="#00ffff" stroke-width="1.7"/><path d="M292.5 340.8L298.2 336.3L298.2 339.4L299.7 342.1Z" fill="#00ffff"/>
<line x1="320.4" y1="337.5" x2="313.5" y2="354.0" stroke="#80ff80" stroke-width="1.7"/><path d="M311.3 359.3L311.1 352.1L313.6 353.9L316.6 354.4Z" fill="#80ff80"/>
<line x1="335.0" y1="337.5" x2="326.6" y2="349.7" stroke="#80ff80" stroke-width="1.7"/><path d="M323.4 354.5L324.6 347.4L326.7 349.6L329.6 350.8Z" fill="#80ff80"/>
<line x1="349.6" y1="337.5" x2="341.2" y2="349.0" stroke="#80ff80" stroke-width="1.7"/><path d="M337.8 353.7L339.3 346.6L341.3 348.9L344.1 350.1Z" fill="#80ff80"/>
<line x1="364.2" y1="337.5" x2="354.4" y2="349.2" stroke="#80ff80" stroke-width="1.7"/><path d="M350.7 353.7L352.6 346.7L354.4 349.2L357.2 350.6Z" fill="#80ff80"/>
<line x1="378.8" y1="337.5" x2="369.6" y2="347.4" stroke="#80ff80" stroke-width="1.7"/><path d="M365.6 351.6L367.9 344.7L369.6 347.3L372.3 348.8Z" fill="#80ff80"/>
<line x1="393.4" y1="337.5" x2="383.9" y2="348.0" stroke="#80ff80" stroke-width="1.7"/><path d="M380.0 352.3L382.2 345.4L384.0 347.9L386.7 349.4Z" fill="#80ff80"/>
<line x1="145.2" y1="352.1" x2="133.1" y2="347.8" stroke="#00ffff" stroke-width="1.7"/><path d="M127.7 345.9L134.9 345.3L133.2 347.9L132.9 350.9Z" fill="#00ffff"/>
<line x1="189.0" y1="352.1" x2="176.0" y2="348.5" stroke="#00ffff" stroke-width="1.7"/><path d="M170.4 347.0L177.5 345.8L176.1 348.5L175.9 351.6Z" fill="#00ffff"/>
<line x1="247.4" y1="352.1" x2="236.9" y2="350.0" stroke="#00ffff" stroke-width="1.7"/><path d="M231.2 348.9L238.3 347.2L237.0 350.1L237.1 353.1Z" fill="#00ffff"/>
<line x1="262.0" y1="352.1" x2="249.3" y2="350.4" stroke="#00ffff" stroke-width="1.7"/><path d="M243.5 349.6L250.4 347.5L249.3 350.4L249.6 353.5Z" fill="#00ffff"/>
<line x1="291.2" y1="352.1" x2="280.5" y2="353.4" stroke="#00ffff" stroke-width="1.7"/><path d="M274.7 354.0L280.9 350.3L280.6 353.4L281.6 356.3Z" fill="#00ffff"/>
<line x1="305.8" y1="352.1" x2="291.9" y2="353.8" stroke="#80ff80" stroke-width="1.7"/><path d="M286.1 354.5L292.3 350.7L292.0 353.8L293.0 356.7Z" fill="#80ff80"/>
<line x1="320.4" y1="352.1" x2="307.0" y2="362.9" stroke="#80ff80" stroke-width="1.7"/><path d="M302.5 366.5L305.7 360.1L307.1 362.8L309.5 364.7Z" fill="#80ff80"/>
<line x1="335.0" y1="352.1" x2="320.6" y2="363.7" stroke="#80ff80" stroke-width="1.7"/><path d="M316.1 367.3L319.4 360.9L320.7 363.6L323.2 365.5Z" fill="#80ff80"/>
<line x1="349.6" y1="352.1" x2="337.3" y2="363.4" stroke="#80ff80" stroke-width="1.7"/><path d="M333.0 367.3L335.8 360.7L337.3 363.4L339.9 365.1Z" fill="#80ff80"/>
<line x1="364.2" y1="352.1" x2="351.0" y2="363.5" stroke="#80ff80" stroke-width="1.7"/><path d="M346.6 367.3L349.7 360.7L351.1 363.5L353.6 365.3Z" fill="#80ff80"/>
<line x1="378.8" y1="352.1" x2="369.3" y2="361.0" stroke="#80ff80" stroke-width="1.7"/><path d="M365.1 364.9L367.9 358.2L369.4 360.9L372.0 362.6Z" fill="#80ff80"/>
<line x1="393.4" y1="352.1" x2="384.4" y2="364.0" stroke="#80ff80" stroke-width="1.7"/><path d="M380.9 368.6L382.5 361.5L384.4 363.9L387.2 365.2Z" fill="#80ff80"/>
<line x1="174.4" y1="366.7" x2="161.0" y2="362.6" stroke="#00ffff" stroke-width="1.7"/><path d="M155.4 360.8L162.6 359.9L161.1 362.6L160.9 365.7Z" fill="#00ffff"/>
<line x1="189.0" y1="366.7" x2="173.2" y2="362.4" stroke="#80ff80" stroke-width="1.7"/><path d="M167.6 360.8L174.8 359.7L173.3 362.4L173.2 365.5Z" fill="#80ff80"/>
<line x1="218.2" y1="366.7" x2="200.9" y2="361.1" stroke="#80ff80" stroke-width="1.7"/><path d="M195.4 359.4L202.6 358.5L201.0 361.2L200.7 364.2Z" fill="#80ff80"/>
<line x1="232.8" y1="366.7" x2="212.9" y2="361.1" stroke="#80ff80" stroke-width="1.7"/><path d="M207.3 359.5L214.5 358.4L213.0 361.1L212.8 364.2Z" fill="#80ff80"/>
<line x1="247.4" y1="366.7" x2="227.5" y2="363.1" stroke="#80ff80" stroke-width="1.7"/><path d="M221.8 362.1L228.9 360.3L227.6 363.1L227.8 366.2Z" fill="#80ff80"/>
<line x1="262.0" y1="366.7" x2="242.0" y2="363.1" stroke="#80ff80" stroke-width="1.7"/><path d="M236.3 362.1L243.4 360.3L242.1 363.1L242.3 366.2Z" fill="#80ff80"/>
<line x1="291.2" y1="366.7" x2="272.8" y2="364.5" stroke="#80ff80" stroke-width="1.7"/><path d="M267.1 363.8L274.0 361.6L272.9 364.5L273.3 367.6Z" fill="#80ff80"/>
<line x1="305.8" y1="366.7" x2="290.5" y2="363.7" stroke="#80ff80" stroke-width="1.7"/><path d="M284.8 362.5L291.9 360.9L290.6 363.7L290.7 366.8Z" fill="#80ff80"/>
<line x1="320.4" y1="366.7" x2="303.4" y2="377.2" stroke="#80ff80" stroke-width="1.7"/><path d="M298.5 380.2L302.5 374.2L303.5 377.1L305.7 379.3Z" fill="#80ff80"/>
<line x1="335.0" y1="366.7" x2="313.9" y2="378.9" stroke="#80ff80" stroke-width="1.7"/><path d="M308.9 381.8L313.1 375.9L314.0 378.8L316.1 381.1Z" fill="#80ff80"/>
<line x1="349.6" y1="366.7" x2="332.7" y2="373.9" stroke="#80ff80" stroke-width="1.7"/><path d="M327.4 376.2L332.3 370.8L332.8 373.9L334.6 376.4Z" fill="#80ff80"/>
<line x1="364.2" y1="366.7" x2="348.6" y2="374.4" stroke="#80ff80" stroke-width="1.7"/><path d="M343.4 377.0L348.0 371.4L348.7 374.4L350.7 376.7Z" fill="#80ff80"/>
<line x1="378.8" y1="366.7" x2="366.8" y2="374.6" stroke="#80ff80" stroke-width="1.7"/><path d="M361.9 377.8L365.8 371.6L366.8 374.5L369.1 376.7Z" fill="#80ff80"/>
<line x1="247.4" y1="381.3" x2="225.3" y2="377.3" stroke="#ffff00" stroke-width="1.7"/><path d="M219.6 376.2L226.6 374.5L225.4 377.3L225.6 380.4Z" fill="#ffff00"/>
<line x1="262.0" y1="381.3" x2="242.1" y2="378.0" stroke="#80ff80" stroke-width="1.7"/><path d="M236.3 377.1L243.3 375.2L242.2 378.0L242.4 381.1Z" fill="#80ff80"/>
<line x1="291.2" y1="381.3" x2="272.8" y2="378.7" stroke="#80ff80" stroke-width="1.7"/><path d="M267.1 377.9L274.0 375.9L272.9 378.8L273.2 381.8Z" fill="#80ff80"/>
<line x1="305.8" y1="381.3" x2="287.4" y2="379.8" stroke="#80ff80" stroke-width="1.7"/><path d="M281.6 379.4L288.4 376.9L287.5 379.9L287.9 382.9Z" fill="#80ff80"/>
<line x1="320.4" y1="381.3" x2="301.5" y2="387.9" stroke="#80ff80" stroke-width="1.7"/><path d="M296.1 389.8L301.3 384.8L301.6 387.9L303.3 390.5Z" fill="#80ff80"/>
<line x1="335.0" y1="381.3" x2="314.7" y2="381.7" stroke="#80ff80" stroke-width="1.7"/><path d="M308.9 381.8L315.4 378.7L314.8 381.7L315.6 384.7Z" fill="#80ff80"/>
<line x1="349.6" y1="381.3" x2="331.3" y2="386.6" stroke="#80ff80" stroke-width="1.7"/><path d="M325.8 388.2L331.3 383.5L331.4 386.6L332.9 389.3Z" fill="#80ff80"/>
<line x1="364.2" y1="381.3" x2="348.9" y2="386.4" stroke="#80ff80" stroke-width="1.7"/><path d="M343.4 388.2L348.7 383.3L349.0 386.4L350.6 389.0Z" fill="#80ff80"/>
<line x1="378.8" y1="381.3" x2="367.1" y2="387.2" stroke="#00ffff" stroke-width="1.7"/><path d="M361.9 389.8L366.4 384.2L367.2 387.2L369.1 389.5Z" fill="#00ffff"/>
<line x1="349.6" y1="395.9" x2="336.2" y2="392.8" stroke="#00ffff" stroke-width="1.7"/><path d="M330.6 391.4L337.7 390.0L336.3 392.8L336.3 395.9Z" fill="#00ffff"/>
<line x1="364.2" y1="395.9" x2="351.6" y2="395.6" stroke="#00ffff" stroke-width="1.7"/><path d="M345.8 395.4L352.5 392.6L351.7 395.6L352.4 398.6Z" fill="#00ffff"/>
<line x1="378.8" y1="395.9" x2="367.6" y2="397.7" stroke="#00ffff" stroke-width="1.7"/><path d="M361.9 398.7L367.9 394.6L367.7 397.7L368.9 400.6Z" fill="#00ffff"/>
<line x1="364.2" y1="410.5" x2="358.0" y2="409.3" stroke="#0080ff" stroke-width="1.7"/><path d="M352.3 408.3L359.3 406.5L358.1 409.4L358.2 412.5Z" fill="#0080ff"/>
</g>
<text class="b15" x="504.5" y="84.2" style="font-size:15.9px">25 cm/s</text>
<line x1="568.3" y1="78.8" x2="580" y2="78.8" stroke="#000" stroke-width="1.8"/>
<path d="M585.2 78.8 L578.3 76.4 L578.3 81.2 Z" fill="#000"/>
<text class="b15" x="550.6" y="344.2" style="font-size:15.7px">10 km</text>
<line x1="549" y1="348.8" x2="598.5" y2="348.8" stroke="#000" stroke-width="1.8"/>
<line x1="549.8" y1="344.2" x2="549.8" y2="353" stroke="#000" stroke-width="1.8"/>
<line x1="597.8" y1="344.2" x2="597.8" y2="353" stroke="#000" stroke-width="1.8"/>
<g>
<text class="deg" x="12" y="91.7">37</text><text class="sup" x="32.4" y="83.2">o</text><text class="deg" x="40.4" y="91.7">N</text>
<text class="min" x="56.5" y="179" text-anchor="end">50&#8217;</text>
<text class="min" x="56.5" y="269" text-anchor="end">40&#8217;</text>
<text class="min" x="56.5" y="359" text-anchor="end">30&#8217;</text>
<text class="min" x="56.5" y="448" text-anchor="end">20&#8217;</text>
<text class="deg" x="36.6" y="542">123</text><text class="sup" x="65.7" y="533.1">o</text><text class="deg" x="73.4" y="542">W</text>
<text class="min" x="173.5" y="533.2" text-anchor="middle">45&#8217;</text>
<text class="min" x="281.2" y="533.2" text-anchor="middle">30&#8217;</text>
<text class="min" x="390.3" y="533.2" text-anchor="middle">15&#8217;</text>
<text class="deg" x="469.1" y="542.2">122</text><text class="sup" x="498.2" y="533.1">o</text><text class="deg" x="506" y="542.2">W</text>
<text class="min" x="605" y="533" text-anchor="middle">45&#8217;</text>
</g>
<rect x="640.5" y="57.50" width="20.0" height="57.55" fill="#800000"/>
<rect x="640.5" y="114.75" width="20.0" height="57.55" fill="#ff0000"/>
<rect x="640.5" y="172.00" width="20.0" height="57.55" fill="#ff8000"/>
<rect x="640.5" y="229.25" width="20.0" height="57.55" fill="#ffff00"/>
<rect x="640.5" y="286.50" width="20.0" height="57.55" fill="#80ff80"/>
<rect x="640.5" y="343.75" width="20.0" height="57.55" fill="#00ffff"/>
<rect x="640.5" y="401.00" width="20.0" height="57.55" fill="#0080ff"/>
<rect x="640.5" y="458.25" width="20.0" height="57.55" fill="#0000ff"/>
<line x1="640.5" y1="114.75" x2="644.5" y2="114.75" stroke="#888" stroke-width="1"/>
<line x1="656.5" y1="114.75" x2="660.5" y2="114.75" stroke="#888" stroke-width="1"/>
<line x1="640.5" y1="172.00" x2="644.5" y2="172.00" stroke="#888" stroke-width="1"/>
<line x1="656.5" y1="172.00" x2="660.5" y2="172.00" stroke="#888" stroke-width="1"/>
<line x1="640.5" y1="229.25" x2="644.5" y2="229.25" stroke="#888" stroke-width="1"/>
<line x1="656.5" y1="229.25" x2="660.5" y2="229.25" stroke="#888" stroke-width="1"/>
<line x1="640.5" y1="286.50" x2="644.5" y2="286.50" stroke="#888" stroke-width="1"/>
<line x1="656.5" y1="286.50" x2="660.5" y2="286.50" stroke="#888" stroke-width="1"/>
<line x1="640.5" y1="343.75" x2="644.5" y2="343.75" stroke="#888" stroke-width="1"/>
<line x1="656.5" y1="343.75" x2="660.5" y2="343.75" stroke="#888" stroke-width="1"/>
<line x1="640.5" y1="401.00" x2="644.5" y2="401.00" stroke="#888" stroke-width="1"/>
<line x1="656.5" y1="401.00" x2="660.5" y2="401.00" stroke="#888" stroke-width="1"/>
<line x1="640.5" y1="458.25" x2="644.5" y2="458.25" stroke="#888" stroke-width="1"/>
<line x1="656.5" y1="458.25" x2="660.5" y2="458.25" stroke="#888" stroke-width="1"/>
<rect x="640.5" y="57.5" width="20.0" height="458.0" fill="none" stroke="#000" stroke-width="1"/>
<text x="663.5" y="62.1" class="cbl">80</text>
<text x="663.5" y="119.3" class="cbl">70</text>
<text x="663.5" y="176.6" class="cbl">60</text>
<text x="663.5" y="233.8" class="cbl">50</text>
<text x="663.5" y="291.1" class="cbl">40</text>
<text x="663.5" y="348.4" class="cbl">30</text>
<text x="663.5" y="405.6" class="cbl">20</text>
<text x="663.5" y="462.9" class="cbl">10</text>
<text x="663.5" y="520.1" class="cbl">0</text>
<text class="note" x="636" y="529.8">cm/s</text>
<text class="note" transform="translate(694,440) rotate(-90)">NOTE: Data outside color range will be saturated.</text>
</svg>
</body></html>
